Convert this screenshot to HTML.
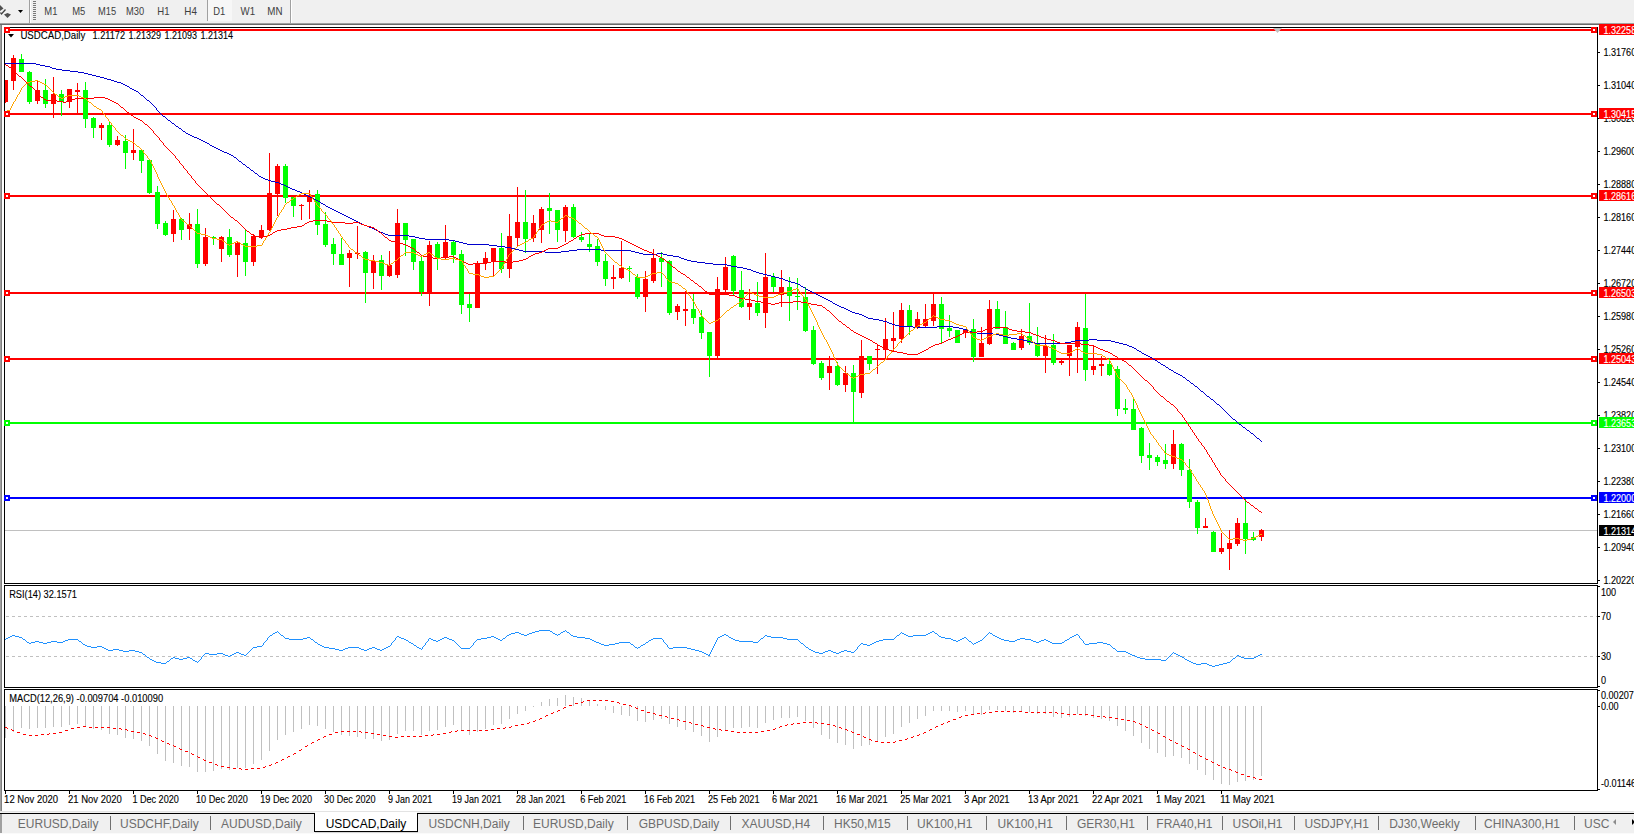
<!DOCTYPE html>
<html><head><meta charset="utf-8"><title>USDCAD,Daily</title>
<style>
html,body{margin:0;padding:0;background:#f0f0f0;}
#root{position:relative;width:1634px;height:834px;overflow:hidden;background:#f0f0f0;font-family:"Liberation Sans", sans-serif;}
svg{position:absolute;left:0;top:0;}
svg text{font-family:"Liberation Sans", sans-serif;}
</style></head><body><div id="root">
<svg width="1634" height="834" viewBox="0 0 1634 834">
<defs>
<clipPath id="cm"><rect x="5" y="28" width="1592" height="555"/></clipPath>
<clipPath id="cr"><rect x="5" y="586" width="1592" height="101"/></clipPath>
<clipPath id="cd"><rect x="5" y="690" width="1592" height="100"/></clipPath>
</defs>

<g shape-rendering="crispEdges">
<rect x="0" y="0" width="1634" height="23" fill="#f0f0f0"/>
<rect x="0" y="23" width="1634" height="1" fill="#a0a0a0"/>
<rect x="0" y="24" width="1634" height="1" fill="#696969"/>
<rect x="29" y="0" width="1" height="23" fill="#a0a0a0"/><rect x="30" y="0" width="1" height="23" fill="#ffffff"/>
<rect x="33" y="1" width="3" height="1" fill="#7a7a7a"/>
<rect x="33" y="3" width="3" height="1" fill="#7a7a7a"/>
<rect x="33" y="5" width="3" height="1" fill="#7a7a7a"/>
<rect x="33" y="7" width="3" height="1" fill="#7a7a7a"/>
<rect x="33" y="9" width="3" height="1" fill="#7a7a7a"/>
<rect x="33" y="11" width="3" height="1" fill="#7a7a7a"/>
<rect x="33" y="13" width="3" height="1" fill="#7a7a7a"/>
<rect x="33" y="15" width="3" height="1" fill="#7a7a7a"/>
<rect x="33" y="17" width="3" height="1" fill="#7a7a7a"/>
<rect x="33" y="19" width="3" height="1" fill="#7a7a7a"/>
<rect x="207" y="0" width="1" height="21" fill="#a0a0a0"/><rect x="208" y="0" width="24" height="21" fill="#f7f7f7"/>
<rect x="290" y="0" width="1" height="23" fill="#a0a0a0"/><rect x="291" y="0" width="1" height="23" fill="#ffffff"/>
</g>
<path d="M0,5 L3.5,8.5 L0,11 Z" fill="#505050"/>
<path d="M0.5,12.5 L1.5,14 L5.5,9.5" fill="none" stroke="#404040" stroke-width="1.3"/>
<path d="M4,14.5 L7.5,13 L11,14.5 L7.5,18 Z" fill="#505050"/>
<path d="M18,10 L23,10 L20.5,13 Z" fill="#000"/>
<text x="44.300000000000004" y="15.2" font-size="10.2" fill="#404040" textLength="13.1" lengthAdjust="spacingAndGlyphs">M1</text>
<text x="72.2" y="15.2" font-size="10.2" fill="#404040" textLength="13.1" lengthAdjust="spacingAndGlyphs">M5</text>
<text x="98.10000000000001" y="15.2" font-size="10.2" fill="#404040" textLength="18.1" lengthAdjust="spacingAndGlyphs">M15</text>
<text x="126.0" y="15.2" font-size="10.2" fill="#404040" textLength="18.1" lengthAdjust="spacingAndGlyphs">M30</text>
<text x="157.29999999999998" y="15.2" font-size="10.2" fill="#404040" textLength="12.2" lengthAdjust="spacingAndGlyphs">H1</text>
<text x="184.29999999999998" y="15.2" font-size="10.2" fill="#404040" textLength="12.6" lengthAdjust="spacingAndGlyphs">H4</text>
<text x="213.29999999999998" y="15.2" font-size="10.2" fill="#404040" textLength="12.0" lengthAdjust="spacingAndGlyphs">D1</text>
<text x="240.6" y="15.2" font-size="10.2" fill="#404040" textLength="14.5" lengthAdjust="spacingAndGlyphs">W1</text>
<text x="267.3" y="15.2" font-size="10.2" fill="#404040" textLength="15.2" lengthAdjust="spacingAndGlyphs">MN</text>
<g shape-rendering="crispEdges">
<rect x="0" y="25" width="1" height="787" fill="#a0a0a0"/><rect x="1" y="25" width="1" height="787" fill="#808080"/>
<rect x="2" y="25" width="1632" height="787" fill="#ffffff"/>
<rect x="4.5" y="27.5" width="1593" height="556" fill="none" stroke="#000" stroke-width="1"/>
<rect x="4.5" y="585.5" width="1593" height="102" fill="none" stroke="#000" stroke-width="1"/>
<rect x="4.5" y="689.5" width="1593" height="101" fill="none" stroke="#000" stroke-width="1"/>
</g>
<g clip-path="url(#cm)" shape-rendering="crispEdges">
<rect x="5" y="530" width="1592" height="1" fill="#c0c0c0"/>
<rect x="5" y="29" width="1592" height="2" fill="#ff0000"/>
<rect x="5" y="113" width="1592" height="2" fill="#ff0000"/>
<rect x="5" y="195" width="1592" height="2" fill="#ff0000"/>
<rect x="5" y="292" width="1592" height="2" fill="#ff0000"/>
<rect x="5" y="358" width="1592" height="2" fill="#ff0000"/>
<rect x="5" y="422" width="1592" height="2" fill="#00ff00"/>
<rect x="5" y="497" width="1592" height="2" fill="#0000ff"/>
</g>
<g clip-path="url(#cm)" shape-rendering="crispEdges">
<rect x="5" y="80" width="1" height="23" fill="#ff0000"/>
<rect x="3" y="80" width="5" height="22" fill="#ff0000"/>
<rect x="13" y="55" width="1" height="35" fill="#ff0000"/>
<rect x="11" y="58" width="5" height="23" fill="#ff0000"/>
<rect x="21" y="54" width="1" height="18" fill="#00ff00"/>
<rect x="19" y="59" width="5" height="13" fill="#00ff00"/>
<rect x="29" y="71" width="1" height="33" fill="#00ff00"/>
<rect x="27" y="72" width="5" height="30" fill="#00ff00"/>
<rect x="37" y="81" width="1" height="23" fill="#ff0000"/>
<rect x="35" y="90" width="5" height="11" fill="#ff0000"/>
<rect x="45" y="79" width="1" height="29" fill="#00ff00"/>
<rect x="43" y="90" width="5" height="14" fill="#00ff00"/>
<rect x="53" y="77" width="1" height="41" fill="#ff0000"/>
<rect x="51" y="94" width="5" height="10" fill="#ff0000"/>
<rect x="61" y="90" width="1" height="26" fill="#00ff00"/>
<rect x="59" y="94" width="5" height="8" fill="#00ff00"/>
<rect x="69" y="89" width="1" height="19" fill="#ff0000"/>
<rect x="67" y="89" width="5" height="13" fill="#ff0000"/>
<rect x="77" y="83" width="1" height="31" fill="#ff0000"/>
<rect x="75" y="90" width="5" height="2" fill="#ff0000"/>
<rect x="85" y="82" width="1" height="46" fill="#00ff00"/>
<rect x="83" y="90" width="5" height="29" fill="#00ff00"/>
<rect x="93" y="117" width="1" height="21" fill="#00ff00"/>
<rect x="91" y="118" width="5" height="10" fill="#00ff00"/>
<rect x="101" y="123" width="1" height="17" fill="#ff0000"/>
<rect x="99" y="125" width="5" height="3" fill="#ff0000"/>
<rect x="109" y="122" width="1" height="25" fill="#00ff00"/>
<rect x="107" y="125" width="5" height="20" fill="#00ff00"/>
<rect x="117" y="136" width="1" height="10" fill="#ff0000"/>
<rect x="115" y="140" width="5" height="5" fill="#ff0000"/>
<rect x="125" y="135" width="1" height="34" fill="#00ff00"/>
<rect x="123" y="141" width="5" height="12" fill="#00ff00"/>
<rect x="133" y="129" width="1" height="31" fill="#ff0000"/>
<rect x="131" y="150" width="5" height="3" fill="#ff0000"/>
<rect x="141" y="150" width="1" height="23" fill="#00ff00"/>
<rect x="139" y="150" width="5" height="11" fill="#00ff00"/>
<rect x="149" y="160" width="1" height="34" fill="#00ff00"/>
<rect x="147" y="160" width="5" height="33" fill="#00ff00"/>
<rect x="157" y="186" width="1" height="43" fill="#00ff00"/>
<rect x="155" y="192" width="5" height="32" fill="#00ff00"/>
<rect x="165" y="221" width="1" height="15" fill="#00ff00"/>
<rect x="163" y="223" width="5" height="12" fill="#00ff00"/>
<rect x="173" y="210" width="1" height="32" fill="#ff0000"/>
<rect x="171" y="219" width="5" height="15" fill="#ff0000"/>
<rect x="181" y="218" width="1" height="22" fill="#00ff00"/>
<rect x="179" y="219" width="5" height="11" fill="#00ff00"/>
<rect x="189" y="213" width="1" height="27" fill="#ff0000"/>
<rect x="187" y="224" width="5" height="5" fill="#ff0000"/>
<rect x="197" y="209" width="1" height="59" fill="#00ff00"/>
<rect x="195" y="224" width="5" height="40" fill="#00ff00"/>
<rect x="205" y="228" width="1" height="38" fill="#ff0000"/>
<rect x="203" y="237" width="5" height="27" fill="#ff0000"/>
<rect x="213" y="236" width="1" height="9" fill="#00ff00"/>
<rect x="211" y="237" width="5" height="1" fill="#00ff00"/>
<rect x="221" y="236" width="1" height="26" fill="#ff0000"/>
<rect x="219" y="237" width="5" height="12" fill="#ff0000"/>
<rect x="229" y="229" width="1" height="28" fill="#00ff00"/>
<rect x="227" y="237" width="5" height="18" fill="#00ff00"/>
<rect x="237" y="242" width="1" height="35" fill="#ff0000"/>
<rect x="235" y="243" width="5" height="12" fill="#ff0000"/>
<rect x="245" y="230" width="1" height="46" fill="#00ff00"/>
<rect x="243" y="243" width="5" height="19" fill="#00ff00"/>
<rect x="253" y="234" width="1" height="32" fill="#ff0000"/>
<rect x="251" y="236" width="5" height="26" fill="#ff0000"/>
<rect x="261" y="225" width="1" height="14" fill="#ff0000"/>
<rect x="259" y="230" width="5" height="7" fill="#ff0000"/>
<rect x="269" y="153" width="1" height="78" fill="#ff0000"/>
<rect x="267" y="193" width="5" height="37" fill="#ff0000"/>
<rect x="277" y="164" width="1" height="52" fill="#ff0000"/>
<rect x="275" y="166" width="5" height="28" fill="#ff0000"/>
<rect x="285" y="164" width="1" height="39" fill="#00ff00"/>
<rect x="283" y="166" width="5" height="32" fill="#00ff00"/>
<rect x="293" y="197" width="1" height="20" fill="#00ff00"/>
<rect x="291" y="197" width="5" height="9" fill="#00ff00"/>
<rect x="301" y="204" width="1" height="16" fill="#ff0000"/>
<rect x="299" y="205" width="5" height="1" fill="#ff0000"/>
<rect x="309" y="190" width="1" height="29" fill="#ff0000"/>
<rect x="307" y="195" width="5" height="7" fill="#ff0000"/>
<rect x="317" y="190" width="1" height="45" fill="#00ff00"/>
<rect x="315" y="194" width="5" height="31" fill="#00ff00"/>
<rect x="325" y="212" width="1" height="35" fill="#00ff00"/>
<rect x="323" y="224" width="5" height="21" fill="#00ff00"/>
<rect x="333" y="238" width="1" height="27" fill="#00ff00"/>
<rect x="331" y="244" width="5" height="10" fill="#00ff00"/>
<rect x="341" y="238" width="1" height="27" fill="#00ff00"/>
<rect x="339" y="254" width="5" height="11" fill="#00ff00"/>
<rect x="349" y="250" width="1" height="37" fill="#ff0000"/>
<rect x="347" y="253" width="5" height="5" fill="#ff0000"/>
<rect x="357" y="226" width="1" height="33" fill="#ff0000"/>
<rect x="355" y="253" width="5" height="1" fill="#ff0000"/>
<rect x="365" y="251" width="1" height="52" fill="#00ff00"/>
<rect x="363" y="252" width="5" height="21" fill="#00ff00"/>
<rect x="373" y="255" width="1" height="34" fill="#ff0000"/>
<rect x="371" y="261" width="5" height="12" fill="#ff0000"/>
<rect x="381" y="255" width="1" height="35" fill="#00ff00"/>
<rect x="379" y="260" width="5" height="16" fill="#00ff00"/>
<rect x="389" y="251" width="1" height="26" fill="#ff0000"/>
<rect x="387" y="265" width="5" height="11" fill="#ff0000"/>
<rect x="397" y="209" width="1" height="69" fill="#ff0000"/>
<rect x="395" y="223" width="5" height="52" fill="#ff0000"/>
<rect x="405" y="223" width="1" height="33" fill="#00ff00"/>
<rect x="403" y="223" width="5" height="17" fill="#00ff00"/>
<rect x="413" y="239" width="1" height="31" fill="#00ff00"/>
<rect x="411" y="239" width="5" height="23" fill="#00ff00"/>
<rect x="421" y="256" width="1" height="40" fill="#00ff00"/>
<rect x="419" y="261" width="5" height="31" fill="#00ff00"/>
<rect x="429" y="241" width="1" height="65" fill="#ff0000"/>
<rect x="427" y="245" width="5" height="47" fill="#ff0000"/>
<rect x="437" y="242" width="1" height="28" fill="#00ff00"/>
<rect x="435" y="244" width="5" height="14" fill="#00ff00"/>
<rect x="445" y="225" width="1" height="35" fill="#ff0000"/>
<rect x="443" y="242" width="5" height="15" fill="#ff0000"/>
<rect x="453" y="241" width="1" height="22" fill="#00ff00"/>
<rect x="451" y="242" width="5" height="13" fill="#00ff00"/>
<rect x="461" y="250" width="1" height="64" fill="#00ff00"/>
<rect x="459" y="254" width="5" height="51" fill="#00ff00"/>
<rect x="469" y="294" width="1" height="28" fill="#00ff00"/>
<rect x="467" y="304" width="5" height="4" fill="#00ff00"/>
<rect x="477" y="261" width="1" height="47" fill="#ff0000"/>
<rect x="475" y="263" width="5" height="45" fill="#ff0000"/>
<rect x="485" y="252" width="1" height="18" fill="#ff0000"/>
<rect x="483" y="258" width="5" height="5" fill="#ff0000"/>
<rect x="493" y="248" width="1" height="28" fill="#ff0000"/>
<rect x="491" y="248" width="5" height="14" fill="#ff0000"/>
<rect x="501" y="233" width="1" height="40" fill="#00ff00"/>
<rect x="499" y="248" width="5" height="21" fill="#00ff00"/>
<rect x="509" y="214" width="1" height="64" fill="#ff0000"/>
<rect x="507" y="236" width="5" height="33" fill="#ff0000"/>
<rect x="517" y="187" width="1" height="59" fill="#ff0000"/>
<rect x="515" y="222" width="5" height="16" fill="#ff0000"/>
<rect x="525" y="190" width="1" height="63" fill="#00ff00"/>
<rect x="523" y="222" width="5" height="17" fill="#00ff00"/>
<rect x="533" y="215" width="1" height="27" fill="#ff0000"/>
<rect x="531" y="223" width="5" height="15" fill="#ff0000"/>
<rect x="541" y="207" width="1" height="36" fill="#ff0000"/>
<rect x="539" y="209" width="5" height="21" fill="#ff0000"/>
<rect x="549" y="193" width="1" height="41" fill="#00ff00"/>
<rect x="547" y="208" width="5" height="3" fill="#00ff00"/>
<rect x="557" y="210" width="1" height="32" fill="#00ff00"/>
<rect x="555" y="210" width="5" height="20" fill="#00ff00"/>
<rect x="565" y="205" width="1" height="37" fill="#ff0000"/>
<rect x="563" y="207" width="5" height="24" fill="#ff0000"/>
<rect x="573" y="204" width="1" height="34" fill="#00ff00"/>
<rect x="571" y="207" width="5" height="30" fill="#00ff00"/>
<rect x="581" y="232" width="1" height="10" fill="#00ff00"/>
<rect x="579" y="237" width="5" height="3" fill="#00ff00"/>
<rect x="589" y="234" width="1" height="18" fill="#00ff00"/>
<rect x="587" y="244" width="5" height="3" fill="#00ff00"/>
<rect x="597" y="239" width="1" height="27" fill="#00ff00"/>
<rect x="595" y="246" width="5" height="16" fill="#00ff00"/>
<rect x="605" y="254" width="1" height="32" fill="#00ff00"/>
<rect x="603" y="261" width="5" height="18" fill="#00ff00"/>
<rect x="613" y="265" width="1" height="24" fill="#ff0000"/>
<rect x="611" y="277" width="5" height="2" fill="#ff0000"/>
<rect x="621" y="241" width="1" height="38" fill="#ff0000"/>
<rect x="619" y="268" width="5" height="10" fill="#ff0000"/>
<rect x="629" y="266" width="1" height="16" fill="#00ff00"/>
<rect x="627" y="268" width="5" height="1" fill="#00ff00"/>
<rect x="637" y="274" width="1" height="25" fill="#00ff00"/>
<rect x="635" y="277" width="5" height="20" fill="#00ff00"/>
<rect x="645" y="271" width="1" height="41" fill="#ff0000"/>
<rect x="643" y="279" width="5" height="18" fill="#ff0000"/>
<rect x="653" y="249" width="1" height="34" fill="#ff0000"/>
<rect x="651" y="258" width="5" height="23" fill="#ff0000"/>
<rect x="661" y="252" width="1" height="35" fill="#00ff00"/>
<rect x="659" y="258" width="5" height="4" fill="#00ff00"/>
<rect x="669" y="260" width="1" height="55" fill="#00ff00"/>
<rect x="667" y="261" width="5" height="52" fill="#00ff00"/>
<rect x="677" y="304" width="1" height="16" fill="#ff0000"/>
<rect x="675" y="306" width="5" height="6" fill="#ff0000"/>
<rect x="685" y="291" width="1" height="35" fill="#ff0000"/>
<rect x="683" y="309" width="5" height="2" fill="#ff0000"/>
<rect x="693" y="294" width="1" height="30" fill="#00ff00"/>
<rect x="691" y="309" width="5" height="9" fill="#00ff00"/>
<rect x="701" y="310" width="1" height="29" fill="#00ff00"/>
<rect x="699" y="317" width="5" height="16" fill="#00ff00"/>
<rect x="709" y="332" width="1" height="45" fill="#00ff00"/>
<rect x="707" y="332" width="5" height="24" fill="#00ff00"/>
<rect x="717" y="277" width="1" height="81" fill="#ff0000"/>
<rect x="715" y="289" width="5" height="67" fill="#ff0000"/>
<rect x="725" y="257" width="1" height="36" fill="#ff0000"/>
<rect x="723" y="267" width="5" height="23" fill="#ff0000"/>
<rect x="733" y="255" width="1" height="40" fill="#00ff00"/>
<rect x="731" y="256" width="5" height="35" fill="#00ff00"/>
<rect x="741" y="271" width="1" height="37" fill="#00ff00"/>
<rect x="739" y="290" width="5" height="17" fill="#00ff00"/>
<rect x="749" y="289" width="1" height="31" fill="#ff0000"/>
<rect x="747" y="303" width="5" height="4" fill="#ff0000"/>
<rect x="757" y="282" width="1" height="34" fill="#00ff00"/>
<rect x="755" y="303" width="5" height="10" fill="#00ff00"/>
<rect x="765" y="253" width="1" height="75" fill="#ff0000"/>
<rect x="763" y="277" width="5" height="36" fill="#ff0000"/>
<rect x="773" y="273" width="1" height="19" fill="#00ff00"/>
<rect x="771" y="277" width="5" height="10" fill="#00ff00"/>
<rect x="781" y="270" width="1" height="37" fill="#ff0000"/>
<rect x="779" y="287" width="5" height="8" fill="#ff0000"/>
<rect x="789" y="277" width="1" height="44" fill="#00ff00"/>
<rect x="787" y="287" width="5" height="9" fill="#00ff00"/>
<rect x="797" y="278" width="1" height="32" fill="#00ff00"/>
<rect x="795" y="296" width="5" height="1" fill="#00ff00"/>
<rect x="805" y="287" width="1" height="45" fill="#00ff00"/>
<rect x="803" y="297" width="5" height="34" fill="#00ff00"/>
<rect x="813" y="326" width="1" height="39" fill="#00ff00"/>
<rect x="811" y="330" width="5" height="34" fill="#00ff00"/>
<rect x="821" y="361" width="1" height="19" fill="#00ff00"/>
<rect x="819" y="363" width="5" height="15" fill="#00ff00"/>
<rect x="829" y="356" width="1" height="34" fill="#ff0000"/>
<rect x="827" y="366" width="5" height="7" fill="#ff0000"/>
<rect x="837" y="362" width="1" height="24" fill="#00ff00"/>
<rect x="835" y="366" width="5" height="19" fill="#00ff00"/>
<rect x="845" y="366" width="1" height="26" fill="#ff0000"/>
<rect x="843" y="373" width="5" height="12" fill="#ff0000"/>
<rect x="853" y="365" width="1" height="57" fill="#00ff00"/>
<rect x="851" y="373" width="5" height="19" fill="#00ff00"/>
<rect x="861" y="340" width="1" height="58" fill="#ff0000"/>
<rect x="859" y="356" width="5" height="37" fill="#ff0000"/>
<rect x="869" y="356" width="1" height="14" fill="#00ff00"/>
<rect x="867" y="356" width="5" height="8" fill="#00ff00"/>
<rect x="877" y="344" width="1" height="30" fill="#ff0000"/>
<rect x="875" y="349" width="5" height="1" fill="#ff0000"/>
<rect x="885" y="318" width="1" height="40" fill="#ff0000"/>
<rect x="883" y="339" width="5" height="11" fill="#ff0000"/>
<rect x="893" y="312" width="1" height="40" fill="#ff0000"/>
<rect x="891" y="338" width="5" height="3" fill="#ff0000"/>
<rect x="901" y="303" width="1" height="40" fill="#ff0000"/>
<rect x="899" y="310" width="5" height="29" fill="#ff0000"/>
<rect x="909" y="305" width="1" height="30" fill="#00ff00"/>
<rect x="907" y="310" width="5" height="17" fill="#00ff00"/>
<rect x="917" y="312" width="1" height="17" fill="#ff0000"/>
<rect x="915" y="319" width="5" height="8" fill="#ff0000"/>
<rect x="925" y="304" width="1" height="23" fill="#ff0000"/>
<rect x="923" y="319" width="5" height="7" fill="#ff0000"/>
<rect x="933" y="294" width="1" height="32" fill="#ff0000"/>
<rect x="931" y="304" width="5" height="17" fill="#ff0000"/>
<rect x="941" y="297" width="1" height="47" fill="#00ff00"/>
<rect x="939" y="304" width="5" height="25" fill="#00ff00"/>
<rect x="949" y="315" width="1" height="22" fill="#00ff00"/>
<rect x="947" y="328" width="5" height="3" fill="#00ff00"/>
<rect x="957" y="330" width="1" height="13" fill="#00ff00"/>
<rect x="955" y="330" width="5" height="13" fill="#00ff00"/>
<rect x="965" y="329" width="1" height="9" fill="#ff0000"/>
<rect x="963" y="330" width="5" height="3" fill="#ff0000"/>
<rect x="973" y="319" width="1" height="43" fill="#00ff00"/>
<rect x="971" y="329" width="5" height="28" fill="#00ff00"/>
<rect x="981" y="327" width="1" height="30" fill="#ff0000"/>
<rect x="979" y="343" width="5" height="14" fill="#ff0000"/>
<rect x="989" y="300" width="1" height="45" fill="#ff0000"/>
<rect x="987" y="309" width="5" height="35" fill="#ff0000"/>
<rect x="997" y="301" width="1" height="28" fill="#00ff00"/>
<rect x="995" y="309" width="5" height="20" fill="#00ff00"/>
<rect x="1005" y="311" width="1" height="33" fill="#00ff00"/>
<rect x="1003" y="327" width="5" height="17" fill="#00ff00"/>
<rect x="1013" y="342" width="1" height="8" fill="#00ff00"/>
<rect x="1011" y="343" width="5" height="7" fill="#00ff00"/>
<rect x="1021" y="329" width="1" height="21" fill="#ff0000"/>
<rect x="1019" y="336" width="5" height="12" fill="#ff0000"/>
<rect x="1029" y="303" width="1" height="42" fill="#00ff00"/>
<rect x="1027" y="336" width="5" height="7" fill="#00ff00"/>
<rect x="1037" y="327" width="1" height="30" fill="#00ff00"/>
<rect x="1035" y="343" width="5" height="13" fill="#00ff00"/>
<rect x="1045" y="335" width="1" height="38" fill="#ff0000"/>
<rect x="1043" y="346" width="5" height="10" fill="#ff0000"/>
<rect x="1053" y="334" width="1" height="31" fill="#00ff00"/>
<rect x="1051" y="345" width="5" height="18" fill="#00ff00"/>
<rect x="1061" y="360" width="1" height="5" fill="#ff0000"/>
<rect x="1059" y="361" width="5" height="2" fill="#ff0000"/>
<rect x="1069" y="345" width="1" height="31" fill="#ff0000"/>
<rect x="1067" y="345" width="5" height="11" fill="#ff0000"/>
<rect x="1077" y="322" width="1" height="51" fill="#ff0000"/>
<rect x="1075" y="327" width="5" height="20" fill="#ff0000"/>
<rect x="1085" y="294" width="1" height="87" fill="#00ff00"/>
<rect x="1083" y="328" width="5" height="42" fill="#00ff00"/>
<rect x="1093" y="346" width="1" height="29" fill="#ff0000"/>
<rect x="1091" y="366" width="5" height="4" fill="#ff0000"/>
<rect x="1101" y="356" width="1" height="20" fill="#ff0000"/>
<rect x="1099" y="364" width="5" height="2" fill="#ff0000"/>
<rect x="1109" y="358" width="1" height="18" fill="#00ff00"/>
<rect x="1107" y="364" width="5" height="11" fill="#00ff00"/>
<rect x="1117" y="366" width="1" height="50" fill="#00ff00"/>
<rect x="1115" y="369" width="5" height="40" fill="#00ff00"/>
<rect x="1125" y="399" width="1" height="15" fill="#00ff00"/>
<rect x="1123" y="408" width="5" height="2" fill="#00ff00"/>
<rect x="1133" y="399" width="1" height="31" fill="#00ff00"/>
<rect x="1131" y="409" width="5" height="21" fill="#00ff00"/>
<rect x="1141" y="427" width="1" height="36" fill="#00ff00"/>
<rect x="1139" y="428" width="5" height="28" fill="#00ff00"/>
<rect x="1149" y="443" width="1" height="27" fill="#00ff00"/>
<rect x="1147" y="455" width="5" height="3" fill="#00ff00"/>
<rect x="1157" y="455" width="1" height="11" fill="#00ff00"/>
<rect x="1155" y="457" width="5" height="5" fill="#00ff00"/>
<rect x="1165" y="444" width="1" height="25" fill="#00ff00"/>
<rect x="1163" y="460" width="5" height="4" fill="#00ff00"/>
<rect x="1173" y="430" width="1" height="39" fill="#ff0000"/>
<rect x="1171" y="444" width="5" height="20" fill="#ff0000"/>
<rect x="1181" y="443" width="1" height="33" fill="#00ff00"/>
<rect x="1179" y="444" width="5" height="26" fill="#00ff00"/>
<rect x="1189" y="459" width="1" height="49" fill="#00ff00"/>
<rect x="1187" y="470" width="5" height="32" fill="#00ff00"/>
<rect x="1197" y="500" width="1" height="34" fill="#00ff00"/>
<rect x="1195" y="502" width="5" height="26" fill="#00ff00"/>
<rect x="1205" y="518" width="1" height="10" fill="#ff0000"/>
<rect x="1203" y="526" width="5" height="2" fill="#ff0000"/>
<rect x="1213" y="531" width="1" height="21" fill="#00ff00"/>
<rect x="1211" y="532" width="5" height="20" fill="#00ff00"/>
<rect x="1221" y="533" width="1" height="21" fill="#ff0000"/>
<rect x="1219" y="548" width="5" height="4" fill="#ff0000"/>
<rect x="1229" y="530" width="1" height="40" fill="#ff0000"/>
<rect x="1227" y="543" width="5" height="6" fill="#ff0000"/>
<rect x="1237" y="518" width="1" height="28" fill="#ff0000"/>
<rect x="1235" y="523" width="5" height="21" fill="#ff0000"/>
<rect x="1245" y="499" width="1" height="55" fill="#00ff00"/>
<rect x="1243" y="523" width="5" height="16" fill="#00ff00"/>
<rect x="1253" y="532" width="1" height="9" fill="#00ff00"/>
<rect x="1251" y="537" width="5" height="3" fill="#00ff00"/>
<rect x="1261" y="529" width="1" height="12" fill="#ff0000"/>
<rect x="1259" y="530" width="5" height="7" fill="#ff0000"/>
</g>
<g clip-path="url(#cm)" shape-rendering="crispEdges">
<path d="M5 63h31v1h-31zM36 64h4v1h-4zM40 65h5v1h-5zM45 66h5v1h-5zM50 67h2v1h-2zM52 68h4v1h-4zM56 69h6v1h-6zM62 70h8v1h-8zM70 71h8v1h-8zM78 72h6v1h-6zM84 73h4v1h-4zM88 74h4v1h-4zM92 75h4v1h-4zM96 76h4v1h-4zM100 77h4v1h-4zM104 78h3v1h-3zM107 79h4v1h-4zM111 80h3v1h-3zM114 81h3v1h-3zM117 82h4v1h-4zM121 83h2v1h-2zM123 84h2v1h-2zM125 85h2v1h-2zM127 86h2v1h-2zM129 87h1v1h-1zM130 88h2v1h-2zM132 89h2v1h-2zM134 90h2v1h-2zM136 91h2v1h-2zM138 92h1v1h-1zM139 93h1v1h-1zM140 94h1v1h-1zM141 95h2v1h-2zM143 96h1v1h-1zM144 97h1v1h-1zM145 98h1v1h-1zM146 99h1v1h-1zM147 100h2v1h-2zM149 101h1v1h-1zM150 102h1v1h-1zM151 103h1v1h-1zM152 104h1v1h-1zM153 105h1v1h-1zM154 106h1v1h-1zM155 107h1v1h-1zM156 108h1v1h-1zM156 109h1v1h-1zM157 110h1v1h-1zM158 111h1v1h-1zM159 112h1v1h-1zM160 113h1v1h-1zM161 114h1v1h-1zM162 115h1v1h-1zM163 116h2v1h-2zM165 117h1v1h-1zM166 118h1v1h-1zM167 119h1v1h-1zM168 120h2v1h-2zM170 121h1v1h-1zM171 122h1v1h-1zM172 123h2v1h-2zM174 124h1v1h-1zM175 125h1v1h-1zM176 126h2v1h-2zM178 127h1v1h-1zM179 128h2v1h-2zM181 129h1v1h-1zM182 130h1v1h-1zM183 131h2v1h-2zM185 132h1v1h-1zM186 133h2v1h-2zM188 134h2v1h-2zM190 135h2v1h-2zM192 136h2v1h-2zM194 137h3v1h-3zM197 138h2v1h-2zM199 139h2v1h-2zM201 140h2v1h-2zM203 141h2v1h-2zM205 142h2v1h-2zM207 143h2v1h-2zM209 144h1v1h-1zM210 145h2v1h-2zM212 146h2v1h-2zM214 147h2v1h-2zM216 148h2v1h-2zM218 149h2v1h-2zM220 150h2v1h-2zM222 151h2v1h-2zM224 152h3v1h-3zM227 153h2v1h-2zM229 154h2v1h-2zM231 155h2v1h-2zM233 156h1v1h-1zM234 157h2v1h-2zM236 158h1v1h-1zM237 159h1v1h-1zM238 160h1v1h-1zM239 161h2v1h-2zM241 162h1v1h-1zM242 163h1v1h-1zM243 164h2v1h-2zM245 165h1v1h-1zM246 166h1v1h-1zM247 167h2v1h-2zM249 168h1v1h-1zM250 169h1v1h-1zM251 170h2v1h-2zM253 171h1v1h-1zM254 172h1v1h-1zM255 173h2v1h-2zM257 174h1v1h-1zM258 175h1v1h-1zM259 176h2v1h-2zM261 177h2v1h-2zM263 178h2v1h-2zM265 179h3v1h-3zM268 180h3v1h-3zM271 181h4v1h-4zM275 182h4v1h-4zM279 183h2v1h-2zM281 184h3v1h-3zM284 185h2v1h-2zM286 186h2v1h-2zM288 187h2v1h-2zM290 188h2v1h-2zM292 189h3v1h-3zM295 190h2v1h-2zM297 191h3v1h-3zM300 192h2v1h-2zM302 193h2v1h-2zM304 194h2v1h-2zM306 195h2v1h-2zM308 196h2v1h-2zM310 197h2v1h-2zM312 198h2v1h-2zM314 199h2v1h-2zM316 200h2v1h-2zM318 201h2v1h-2zM320 202h1v1h-1zM321 203h2v1h-2zM323 204h2v1h-2zM325 205h1v1h-1zM326 206h2v1h-2zM328 207h2v1h-2zM330 208h2v1h-2zM332 209h2v1h-2zM334 210h2v1h-2zM336 211h2v1h-2zM338 212h2v1h-2zM340 213h2v1h-2zM342 214h2v1h-2zM344 215h2v1h-2zM346 216h2v1h-2zM348 217h2v1h-2zM350 218h2v1h-2zM352 219h2v1h-2zM354 220h2v1h-2zM356 221h2v1h-2zM358 222h2v1h-2zM360 223h2v1h-2zM362 224h2v1h-2zM364 225h3v1h-3zM367 226h2v1h-2zM369 227h3v1h-3zM372 228h2v1h-2zM374 229h2v1h-2zM376 230h2v1h-2zM378 231h2v1h-2zM380 232h3v1h-3zM383 233h2v1h-2zM385 234h3v1h-3zM388 235h21v1h-21zM409 236h6v1h-6zM415 237h4v1h-4zM419 238h6v1h-6zM425 239h24v1h-24zM449 240h6v1h-6zM455 241h4v1h-4zM459 242h4v1h-4zM463 243h4v1h-4zM467 244h22v1h-22zM489 245h8v1h-8zM497 246h8v1h-8zM505 247h6v1h-6zM511 248h4v1h-4zM515 249h4v1h-4zM577 249h24v1h-24zM519 250h4v1h-4zM569 250h8v1h-8zM601 250h30v1h-30zM523 251h22v1h-22zM561 251h8v1h-8zM631 251h4v1h-4zM545 252h16v1h-16zM635 252h4v1h-4zM639 253h4v1h-4zM657 253h6v1h-6zM643 254h14v1h-14zM663 254h4v1h-4zM667 255h6v1h-6zM673 256h6v1h-6zM679 257h2v1h-2zM681 258h3v1h-3zM684 259h3v1h-3zM687 260h4v1h-4zM691 261h6v1h-6zM697 262h8v1h-8zM705 263h8v1h-8zM713 264h14v1h-14zM727 265h4v1h-4zM731 266h6v1h-6zM737 267h6v1h-6zM743 268h4v1h-4zM747 269h4v1h-4zM751 270h2v1h-2zM753 271h3v1h-3zM756 272h3v1h-3zM759 273h4v1h-4zM763 274h4v1h-4zM767 275h4v1h-4zM771 276h4v1h-4zM775 277h4v1h-4zM779 278h4v1h-4zM783 279h2v1h-2zM785 280h3v1h-3zM788 281h3v1h-3zM791 282h4v1h-4zM795 283h3v1h-3zM798 284h2v1h-2zM800 285h1v1h-1zM801 286h2v1h-2zM803 287h2v1h-2zM805 288h1v1h-1zM806 289h2v1h-2zM808 290h2v1h-2zM810 291h2v1h-2zM812 292h2v1h-2zM814 293h2v1h-2zM816 294h2v1h-2zM818 295h2v1h-2zM820 296h2v1h-2zM822 297h2v1h-2zM824 298h2v1h-2zM826 299h2v1h-2zM828 300h2v1h-2zM830 301h2v1h-2zM832 302h1v1h-1zM833 303h2v1h-2zM835 304h2v1h-2zM837 305h2v1h-2zM839 306h2v1h-2zM841 307h3v1h-3zM844 308h2v1h-2zM846 309h2v1h-2zM848 310h2v1h-2zM850 311h2v1h-2zM852 312h3v1h-3zM855 313h4v1h-4zM859 314h3v1h-3zM862 315h2v1h-2zM864 316h2v1h-2zM866 317h2v1h-2zM868 318h5v1h-5zM873 319h6v1h-6zM879 320h4v1h-4zM883 321h4v1h-4zM887 322h2v1h-2zM889 323h3v1h-3zM892 324h3v1h-3zM895 325h4v1h-4zM899 326h14v1h-14zM937 326h16v1h-16zM913 327h24v1h-24zM953 327h6v1h-6zM959 328h4v1h-4zM963 329h4v1h-4zM967 330h2v1h-2zM969 331h3v1h-3zM972 332h5v1h-5zM977 333h16v1h-16zM993 334h6v1h-6zM999 335h4v1h-4zM1003 336h4v1h-4zM1007 337h4v1h-4zM1011 338h6v1h-6zM1017 339h6v1h-6zM1089 339h8v1h-8zM1023 340h4v1h-4zM1075 340h14v1h-14zM1097 340h14v1h-14zM1027 341h4v1h-4zM1071 341h4v1h-4zM1111 341h4v1h-4zM1031 342h4v1h-4zM1065 342h6v1h-6zM1115 342h4v1h-4zM1035 343h30v1h-30zM1119 343h4v1h-4zM1123 344h4v1h-4zM1127 345h2v1h-2zM1129 346h3v1h-3zM1132 347h2v1h-2zM1134 348h2v1h-2zM1136 349h1v1h-1zM1137 350h2v1h-2zM1139 351h2v1h-2zM1141 352h1v1h-1zM1142 353h2v1h-2zM1144 354h2v1h-2zM1146 355h2v1h-2zM1148 356h2v1h-2zM1150 357h2v1h-2zM1152 358h1v1h-1zM1153 359h2v1h-2zM1155 360h2v1h-2zM1157 361h1v1h-1zM1158 362h2v1h-2zM1160 363h1v1h-1zM1161 364h2v1h-2zM1163 365h2v1h-2zM1165 366h1v1h-1zM1166 367h2v1h-2zM1168 368h1v1h-1zM1169 369h2v1h-2zM1171 370h2v1h-2zM1173 371h1v1h-1zM1174 372h2v1h-2zM1176 373h2v1h-2zM1178 374h2v1h-2zM1180 375h2v1h-2zM1182 376h1v1h-1zM1183 377h2v1h-2zM1185 378h1v1h-1zM1186 379h1v1h-1zM1187 380h2v1h-2zM1189 381h1v1h-1zM1190 382h1v1h-1zM1191 383h2v1h-2zM1193 384h1v1h-1zM1194 385h1v1h-1zM1195 386h2v1h-2zM1197 387h1v1h-1zM1198 388h1v1h-1zM1199 389h1v1h-1zM1200 390h1v1h-1zM1201 391h2v1h-2zM1203 392h1v1h-1zM1204 393h1v1h-1zM1205 394h1v1h-1zM1206 395h1v1h-1zM1207 396h2v1h-2zM1209 397h1v1h-1zM1210 398h1v1h-1zM1211 399h2v1h-2zM1213 400h1v1h-1zM1214 401h1v1h-1zM1215 402h1v1h-1zM1216 403h1v1h-1zM1217 404h2v1h-2zM1219 405h1v1h-1zM1220 406h1v1h-1zM1221 407h1v1h-1zM1222 408h1v1h-1zM1223 409h1v1h-1zM1224 410h1v1h-1zM1225 411h1v1h-1zM1226 412h1v1h-1zM1227 413h1v1h-1zM1228 414h1v1h-1zM1229 415h1v1h-1zM1230 416h1v1h-1zM1231 417h1v1h-1zM1232 418h1v1h-1zM1233 419h2v1h-2zM1235 420h1v1h-1zM1236 421h1v1h-1zM1237 422h1v1h-1zM1238 423h1v1h-1zM1239 424h2v1h-2zM1241 425h1v1h-1zM1242 426h1v1h-1zM1243 427h2v1h-2zM1245 428h1v1h-1zM1246 429h1v1h-1zM1247 430h2v1h-2zM1249 431h1v1h-1zM1250 432h1v1h-1zM1251 433h2v1h-2zM1253 434h1v1h-1zM1254 435h1v1h-1zM1255 436h1v1h-1zM1256 437h1v1h-1zM1257 438h2v1h-2zM1259 439h1v1h-1zM1260 440h1v1h-1zM1261 441h1v1h-1z" fill="#0000cd"/>
<path d="M5 64h1v1h-1zM6 65h2v1h-2zM8 66h1v1h-1zM9 67h2v1h-2zM11 68h1v1h-1zM12 69h1v1h-1zM13 70h1v1h-1zM14 71h1v1h-1zM15 72h1v1h-1zM16 73h1v1h-1zM17 74h1v1h-1zM18 75h1v1h-1zM19 76h2v1h-2zM21 77h1v1h-1zM22 78h1v1h-1zM23 79h1v1h-1zM24 80h1v1h-1zM25 81h1v1h-1zM26 82h1v1h-1zM27 83h1v1h-1zM28 84h1v1h-1zM29 85h1v1h-1zM30 86h2v1h-2zM32 87h1v1h-1zM33 88h1v1h-1zM34 89h1v1h-1zM35 90h1v1h-1zM36 91h1v1h-1zM37 92h1v1h-1zM37 93h1v1h-1zM38 94h1v1h-1zM39 95h1v1h-1zM40 96h1v1h-1zM41 97h2v1h-2zM94 97h11v1h-11zM43 98h1v1h-1zM75 98h19v1h-19zM105 98h3v1h-3zM44 99h2v1h-2zM71 99h4v1h-4zM108 99h2v1h-2zM46 100h11v1h-11zM68 100h3v1h-3zM110 100h2v1h-2zM57 101h6v1h-6zM66 101h2v1h-2zM112 101h2v1h-2zM63 102h3v1h-3zM114 102h2v1h-2zM116 103h2v1h-2zM118 104h1v1h-1zM119 105h1v1h-1zM120 106h1v1h-1zM121 107h2v1h-2zM123 108h1v1h-1zM124 109h1v1h-1zM125 110h1v1h-1zM126 111h1v1h-1zM127 112h2v1h-2zM129 113h1v1h-1zM130 114h1v1h-1zM131 115h2v1h-2zM133 116h1v1h-1zM134 117h2v1h-2zM136 118h2v1h-2zM138 119h2v1h-2zM140 120h2v1h-2zM142 121h1v1h-1zM143 122h1v1h-1zM144 123h1v1h-1zM145 124h2v1h-2zM147 125h1v1h-1zM148 126h1v1h-1zM149 127h1v1h-1zM150 128h1v1h-1zM151 129h1v1h-1zM152 130h1v1h-1zM153 131h1v1h-1zM153 132h1v1h-1zM154 133h1v1h-1zM155 134h1v1h-1zM156 135h1v1h-1zM157 136h1v1h-1zM158 137h1v1h-1zM159 138h1v1h-1zM159 139h1v1h-1zM160 140h1v1h-1zM161 141h1v1h-1zM162 142h1v1h-1zM163 143h1v1h-1zM163 144h1v1h-1zM164 145h1v1h-1zM165 146h1v1h-1zM166 147h1v1h-1zM167 148h1v1h-1zM168 149h1v1h-1zM169 150h1v1h-1zM170 151h1v1h-1zM171 152h1v1h-1zM172 153h1v1h-1zM173 154h1v1h-1zM174 155h1v1h-1zM175 156h1v1h-1zM175 157h1v1h-1zM176 158h1v1h-1zM177 159h1v1h-1zM178 160h1v1h-1zM179 161h1v1h-1zM179 162h1v1h-1zM180 163h1v1h-1zM181 164h1v1h-1zM182 165h1v1h-1zM183 166h1v1h-1zM183 167h1v1h-1zM184 168h1v1h-1zM185 169h1v1h-1zM186 170h1v1h-1zM187 171h1v1h-1zM187 172h1v1h-1zM188 173h1v1h-1zM189 174h1v1h-1zM190 175h1v1h-1zM191 176h1v1h-1zM191 177h1v1h-1zM192 178h1v1h-1zM193 179h1v1h-1zM194 180h1v1h-1zM195 181h1v1h-1zM195 182h1v1h-1zM196 183h1v1h-1zM197 184h1v1h-1zM198 185h1v1h-1zM199 186h1v1h-1zM200 187h1v1h-1zM201 188h1v1h-1zM202 189h1v1h-1zM203 190h1v1h-1zM204 191h1v1h-1zM205 192h1v1h-1zM206 193h1v1h-1zM207 194h1v1h-1zM208 195h1v1h-1zM209 196h1v1h-1zM210 197h1v1h-1zM211 198h1v1h-1zM212 199h1v1h-1zM213 200h1v1h-1zM214 201h1v1h-1zM215 202h1v1h-1zM216 203h1v1h-1zM217 204h2v1h-2zM219 205h1v1h-1zM220 206h1v1h-1zM221 207h1v1h-1zM222 208h1v1h-1zM223 209h1v1h-1zM224 210h1v1h-1zM225 211h1v1h-1zM226 212h1v1h-1zM227 213h1v1h-1zM228 214h1v1h-1zM229 215h1v1h-1zM230 216h1v1h-1zM231 217h2v1h-2zM233 218h1v1h-1zM234 219h1v1h-1zM235 220h2v1h-2zM313 220h14v1h-14zM237 221h1v1h-1zM309 221h4v1h-4zM327 221h4v1h-4zM238 222h1v1h-1zM307 222h2v1h-2zM331 222h14v1h-14zM353 222h6v1h-6zM239 223h1v1h-1zM305 223h2v1h-2zM345 223h8v1h-8zM359 223h2v1h-2zM240 224h1v1h-1zM304 224h1v1h-1zM361 224h3v1h-3zM241 225h1v1h-1zM302 225h2v1h-2zM364 225h3v1h-3zM242 226h1v1h-1zM297 226h5v1h-5zM367 226h4v1h-4zM243 227h1v1h-1zM291 227h6v1h-6zM371 227h3v1h-3zM244 228h1v1h-1zM287 228h4v1h-4zM374 228h1v1h-1zM245 229h1v1h-1zM281 229h6v1h-6zM375 229h2v1h-2zM246 230h1v1h-1zM277 230h4v1h-4zM377 230h1v1h-1zM247 231h2v1h-2zM275 231h2v1h-2zM378 231h1v1h-1zM249 232h1v1h-1zM273 232h2v1h-2zM379 232h2v1h-2zM250 233h1v1h-1zM272 233h1v1h-1zM381 233h1v1h-1zM585 233h14v1h-14zM251 234h2v1h-2zM270 234h2v1h-2zM382 234h1v1h-1zM581 234h4v1h-4zM599 234h2v1h-2zM253 235h2v1h-2zM267 235h3v1h-3zM383 235h1v1h-1zM579 235h2v1h-2zM601 235h3v1h-3zM255 236h4v1h-4zM263 236h4v1h-4zM384 236h1v1h-1zM577 236h2v1h-2zM604 236h11v1h-11zM259 237h4v1h-4zM385 237h2v1h-2zM576 237h1v1h-1zM615 237h4v1h-4zM387 238h1v1h-1zM574 238h2v1h-2zM619 238h3v1h-3zM388 239h1v1h-1zM573 239h1v1h-1zM622 239h2v1h-2zM389 240h2v1h-2zM571 240h2v1h-2zM624 240h2v1h-2zM391 241h4v1h-4zM569 241h2v1h-2zM626 241h2v1h-2zM395 242h4v1h-4zM568 242h1v1h-1zM628 242h2v1h-2zM399 243h4v1h-4zM566 243h2v1h-2zM630 243h2v1h-2zM403 244h3v1h-3zM564 244h2v1h-2zM632 244h2v1h-2zM406 245h2v1h-2zM562 245h2v1h-2zM634 245h2v1h-2zM408 246h2v1h-2zM560 246h2v1h-2zM636 246h2v1h-2zM410 247h2v1h-2zM558 247h2v1h-2zM638 247h2v1h-2zM412 248h2v1h-2zM548 248h10v1h-10zM640 248h2v1h-2zM414 249h1v1h-1zM546 249h2v1h-2zM642 249h2v1h-2zM415 250h1v1h-1zM544 250h2v1h-2zM644 250h3v1h-3zM416 251h1v1h-1zM542 251h2v1h-2zM647 251h2v1h-2zM417 252h2v1h-2zM539 252h3v1h-3zM649 252h3v1h-3zM419 253h1v1h-1zM535 253h4v1h-4zM652 253h2v1h-2zM420 254h1v1h-1zM533 254h2v1h-2zM654 254h2v1h-2zM421 255h2v1h-2zM531 255h2v1h-2zM656 255h2v1h-2zM423 256h4v1h-4zM449 256h5v1h-5zM529 256h2v1h-2zM658 256h2v1h-2zM427 257h6v1h-6zM441 257h8v1h-8zM454 257h2v1h-2zM528 257h1v1h-1zM660 257h2v1h-2zM433 258h8v1h-8zM456 258h2v1h-2zM526 258h2v1h-2zM662 258h1v1h-1zM458 259h2v1h-2zM523 259h3v1h-3zM663 259h2v1h-2zM460 260h2v1h-2zM519 260h4v1h-4zM665 260h1v1h-1zM462 261h2v1h-2zM491 261h14v1h-14zM513 261h6v1h-6zM666 261h1v1h-1zM464 262h2v1h-2zM487 262h4v1h-4zM505 262h8v1h-8zM667 262h2v1h-2zM466 263h2v1h-2zM473 263h14v1h-14zM669 263h1v1h-1zM468 264h5v1h-5zM670 264h1v1h-1zM671 265h1v1h-1zM672 266h1v1h-1zM673 267h2v1h-2zM675 268h1v1h-1zM676 269h1v1h-1zM677 270h1v1h-1zM678 271h2v1h-2zM680 272h1v1h-1zM681 273h2v1h-2zM683 274h2v1h-2zM685 275h1v1h-1zM686 276h1v1h-1zM687 277h2v1h-2zM689 278h1v1h-1zM690 279h1v1h-1zM691 280h2v1h-2zM693 281h1v1h-1zM694 282h1v1h-1zM695 283h2v1h-2zM697 284h1v1h-1zM698 285h1v1h-1zM699 286h2v1h-2zM701 287h1v1h-1zM702 288h1v1h-1zM703 289h1v1h-1zM704 290h1v1h-1zM705 291h2v1h-2zM707 292h1v1h-1zM708 293h1v1h-1zM709 294h20v1h-20zM729 295h6v1h-6zM735 296h2v1h-2zM737 297h3v1h-3zM740 298h5v1h-5zM745 299h6v1h-6zM751 300h4v1h-4zM755 301h6v1h-6zM793 301h8v1h-8zM761 302h6v1h-6zM779 302h14v1h-14zM801 302h6v1h-6zM767 303h4v1h-4zM775 303h4v1h-4zM807 303h4v1h-4zM771 304h4v1h-4zM811 304h6v1h-6zM817 305h5v1h-5zM822 306h1v1h-1zM823 307h2v1h-2zM825 308h1v1h-1zM826 309h1v1h-1zM827 310h2v1h-2zM829 311h1v1h-1zM830 312h1v1h-1zM831 313h1v1h-1zM832 314h1v1h-1zM833 315h1v1h-1zM834 316h1v1h-1zM835 317h1v1h-1zM836 318h1v1h-1zM837 319h1v1h-1zM838 320h1v1h-1zM839 321h2v1h-2zM841 322h1v1h-1zM842 323h1v1h-1zM843 324h2v1h-2zM845 325h1v1h-1zM846 326h1v1h-1zM847 327h2v1h-2zM993 327h14v1h-14zM849 328h1v1h-1zM988 328h5v1h-5zM1007 328h2v1h-2zM850 329h1v1h-1zM985 329h3v1h-3zM1009 329h3v1h-3zM851 330h2v1h-2zM983 330h2v1h-2zM1012 330h5v1h-5zM853 331h1v1h-1zM977 331h6v1h-6zM1017 331h8v1h-8zM854 332h2v1h-2zM964 332h13v1h-13zM1025 332h6v1h-6zM856 333h2v1h-2zM962 333h2v1h-2zM1031 333h2v1h-2zM858 334h2v1h-2zM960 334h2v1h-2zM1033 334h3v1h-3zM860 335h2v1h-2zM958 335h2v1h-2zM1036 335h3v1h-3zM862 336h2v1h-2zM956 336h2v1h-2zM1039 336h2v1h-2zM864 337h2v1h-2zM953 337h3v1h-3zM1041 337h3v1h-3zM866 338h2v1h-2zM951 338h2v1h-2zM1044 338h3v1h-3zM868 339h2v1h-2zM948 339h3v1h-3zM1047 339h4v1h-4zM870 340h2v1h-2zM946 340h2v1h-2zM1051 340h4v1h-4zM872 341h1v1h-1zM944 341h2v1h-2zM1055 341h2v1h-2zM873 342h2v1h-2zM942 342h2v1h-2zM1057 342h3v1h-3zM875 343h2v1h-2zM939 343h3v1h-3zM1060 343h21v1h-21zM877 344h1v1h-1zM935 344h4v1h-4zM1081 344h8v1h-8zM878 345h2v1h-2zM933 345h2v1h-2zM1089 345h5v1h-5zM880 346h2v1h-2zM931 346h2v1h-2zM1094 346h2v1h-2zM882 347h2v1h-2zM929 347h2v1h-2zM1096 347h2v1h-2zM884 348h3v1h-3zM928 348h1v1h-1zM1098 348h2v1h-2zM887 349h2v1h-2zM926 349h2v1h-2zM1100 349h3v1h-3zM889 350h3v1h-3zM924 350h2v1h-2zM1103 350h2v1h-2zM892 351h5v1h-5zM922 351h2v1h-2zM1105 351h3v1h-3zM897 352h6v1h-6zM920 352h2v1h-2zM1108 352h2v1h-2zM903 353h4v1h-4zM918 353h2v1h-2zM1110 353h2v1h-2zM907 354h11v1h-11zM1112 354h1v1h-1zM1113 355h2v1h-2zM1115 356h2v1h-2zM1117 357h1v1h-1zM1118 358h2v1h-2zM1120 359h2v1h-2zM1122 360h2v1h-2zM1124 361h2v1h-2zM1126 362h1v1h-1zM1127 363h1v1h-1zM1128 364h1v1h-1zM1129 365h2v1h-2zM1131 366h1v1h-1zM1132 367h1v1h-1zM1133 368h1v1h-1zM1134 369h1v1h-1zM1135 370h1v1h-1zM1136 371h1v1h-1zM1137 372h1v1h-1zM1138 373h1v1h-1zM1139 374h1v1h-1zM1140 375h1v1h-1zM1141 376h1v1h-1zM1142 377h1v1h-1zM1143 378h1v1h-1zM1144 379h1v1h-1zM1145 380h2v1h-2zM1147 381h1v1h-1zM1148 382h1v1h-1zM1149 383h1v1h-1zM1150 384h1v1h-1zM1151 385h1v1h-1zM1152 386h1v1h-1zM1153 387h1v1h-1zM1153 388h1v1h-1zM1154 389h1v1h-1zM1155 390h1v1h-1zM1156 391h1v1h-1zM1157 392h1v1h-1zM1158 393h1v1h-1zM1159 394h1v1h-1zM1160 395h1v1h-1zM1161 396h2v1h-2zM1163 397h1v1h-1zM1164 398h1v1h-1zM1165 399h1v1h-1zM1166 400h1v1h-1zM1167 401h2v1h-2zM1169 402h1v1h-1zM1170 403h1v1h-1zM1171 404h2v1h-2zM1173 405h1v1h-1zM1174 406h1v1h-1zM1175 407h1v1h-1zM1176 408h1v1h-1zM1177 409h1v1h-1zM1177 410h1v1h-1zM1178 411h1v1h-1zM1179 412h1v1h-1zM1180 413h1v1h-1zM1181 414h1v1h-1zM1182 415h1v1h-1zM1182 416h1v1h-1zM1183 417h1v1h-1zM1184 418h1v1h-1zM1184 419h1v1h-1zM1185 420h1v1h-1zM1186 421h1v1h-1zM1186 422h1v1h-1zM1187 423h1v1h-1zM1188 424h1v1h-1zM1188 425h1v1h-1zM1189 426h1v1h-1zM1190 427h1v1h-1zM1190 428h1v1h-1zM1191 429h1v1h-1zM1192 430h1v1h-1zM1192 431h1v1h-1zM1193 432h1v1h-1zM1194 433h1v1h-1zM1194 434h1v1h-1zM1195 435h1v1h-1zM1196 436h1v1h-1zM1196 437h1v1h-1zM1197 438h1v1h-1zM1198 439h1v1h-1zM1198 440h1v1h-1zM1199 441h1v1h-1zM1200 442h1v1h-1zM1201 443h1v1h-1zM1201 444h1v1h-1zM1202 445h1v1h-1zM1203 446h1v1h-1zM1204 447h1v1h-1zM1204 448h1v1h-1zM1205 449h1v1h-1zM1206 450h1v1h-1zM1206 451h1v1h-1zM1207 452h1v1h-1zM1207 453h1v1h-1zM1208 454h1v1h-1zM1209 455h1v1h-1zM1209 456h1v1h-1zM1210 457h1v1h-1zM1211 458h1v1h-1zM1211 459h1v1h-1zM1212 460h1v1h-1zM1212 461h1v1h-1zM1213 462h1v1h-1zM1214 463h1v1h-1zM1214 464h1v1h-1zM1215 465h1v1h-1zM1215 466h1v1h-1zM1216 467h1v1h-1zM1217 468h1v1h-1zM1217 469h1v1h-1zM1218 470h1v1h-1zM1219 471h1v1h-1zM1219 472h1v1h-1zM1220 473h1v1h-1zM1220 474h1v1h-1zM1221 475h1v1h-1zM1222 476h1v1h-1zM1223 477h1v1h-1zM1224 478h1v1h-1zM1225 479h1v1h-1zM1225 480h1v1h-1zM1226 481h1v1h-1zM1227 482h1v1h-1zM1228 483h1v1h-1zM1229 484h1v1h-1zM1230 485h1v1h-1zM1231 486h1v1h-1zM1232 487h1v1h-1zM1233 488h1v1h-1zM1234 489h1v1h-1zM1235 490h1v1h-1zM1236 491h1v1h-1zM1237 492h1v1h-1zM1238 493h1v1h-1zM1239 494h1v1h-1zM1240 495h1v1h-1zM1241 496h1v1h-1zM1242 497h1v1h-1zM1243 498h1v1h-1zM1244 499h1v1h-1zM1245 500h1v1h-1zM1246 501h1v1h-1zM1247 502h2v1h-2zM1249 503h1v1h-1zM1250 504h1v1h-1zM1251 505h2v1h-2zM1253 506h1v1h-1zM1254 507h1v1h-1zM1255 508h2v1h-2zM1257 509h1v1h-1zM1258 510h1v1h-1zM1259 511h2v1h-2zM1261 512h1v1h-1z" fill="#ff0000"/>
<path d="M35 80h3v1h-3zM30 81h5v1h-5zM38 81h2v1h-2zM27 82h3v1h-3zM40 82h2v1h-2zM26 83h1v1h-1zM42 83h2v1h-2zM25 84h1v1h-1zM44 84h2v1h-2zM24 85h1v1h-1zM46 85h1v1h-1zM23 86h1v1h-1zM47 86h1v1h-1zM22 87h1v1h-1zM48 87h1v1h-1zM21 88h1v1h-1zM49 88h1v1h-1zM21 89h1v1h-1zM50 89h1v1h-1zM20 90h1v1h-1zM51 90h1v1h-1zM20 91h1v1h-1zM52 91h1v1h-1zM19 92h1v1h-1zM53 92h1v1h-1zM19 93h1v1h-1zM54 93h1v1h-1zM18 94h1v1h-1zM55 94h2v1h-2zM17 95h1v1h-1zM57 95h1v1h-1zM68 95h11v1h-11zM17 96h1v1h-1zM58 96h1v1h-1zM65 96h3v1h-3zM79 96h2v1h-2zM16 97h1v1h-1zM59 97h2v1h-2zM63 97h2v1h-2zM81 97h3v1h-3zM16 98h1v1h-1zM61 98h2v1h-2zM84 98h2v1h-2zM15 99h1v1h-1zM86 99h1v1h-1zM15 100h1v1h-1zM87 100h1v1h-1zM14 101h1v1h-1zM88 101h1v1h-1zM13 102h1v1h-1zM89 102h2v1h-2zM13 103h1v1h-1zM91 103h1v1h-1zM12 104h1v1h-1zM92 104h1v1h-1zM12 105h1v1h-1zM93 105h1v1h-1zM11 106h1v1h-1zM94 106h2v1h-2zM11 107h1v1h-1zM96 107h1v1h-1zM10 108h1v1h-1zM97 108h2v1h-2zM10 109h1v1h-1zM99 109h2v1h-2zM7 110h3v1h-3zM101 110h1v1h-1zM5 111h2v1h-2zM102 111h1v1h-1zM102 112h1v1h-1zM103 113h1v1h-1zM104 114h1v1h-1zM105 115h1v1h-1zM105 116h1v1h-1zM106 117h1v1h-1zM107 118h1v1h-1zM108 119h1v1h-1zM108 120h1v1h-1zM109 121h1v1h-1zM110 122h1v1h-1zM111 123h1v1h-1zM111 124h1v1h-1zM112 125h1v1h-1zM113 126h1v1h-1zM114 127h1v1h-1zM115 128h1v1h-1zM115 129h1v1h-1zM116 130h1v1h-1zM117 131h1v1h-1zM118 132h1v1h-1zM119 133h1v1h-1zM120 134h1v1h-1zM121 135h2v1h-2zM123 136h1v1h-1zM124 137h1v1h-1zM125 138h1v1h-1zM126 139h2v1h-2zM128 140h2v1h-2zM130 141h2v1h-2zM132 142h2v1h-2zM134 143h1v1h-1zM135 144h1v1h-1zM136 145h1v1h-1zM137 146h2v1h-2zM139 147h1v1h-1zM140 148h1v1h-1zM141 149h1v1h-1zM142 150h1v1h-1zM143 151h1v1h-1zM143 152h1v1h-1zM144 153h1v1h-1zM145 154h1v1h-1zM146 155h1v1h-1zM147 156h1v1h-1zM147 157h1v1h-1zM148 158h1v1h-1zM149 159h1v1h-1zM150 160h1v1h-1zM150 161h1v1h-1zM151 162h1v1h-1zM151 163h1v1h-1zM152 164h1v1h-1zM152 165h1v1h-1zM153 166h1v1h-1zM153 167h1v1h-1zM154 168h1v1h-1zM154 169h1v1h-1zM155 170h1v1h-1zM155 171h1v1h-1zM156 172h1v1h-1zM156 173h1v1h-1zM157 174h1v1h-1zM157 175h1v1h-1zM157 176h1v1h-1zM158 177h1v1h-1zM158 178h1v1h-1zM159 179h1v1h-1zM159 180h1v1h-1zM160 181h1v1h-1zM160 182h1v1h-1zM161 183h1v1h-1zM161 184h1v1h-1zM162 185h1v1h-1zM162 186h1v1h-1zM163 187h1v1h-1zM163 188h1v1h-1zM164 189h1v1h-1zM164 190h1v1h-1zM165 191h1v1h-1zM165 192h1v1h-1zM166 193h1v1h-1zM301 193h9v1h-9zM166 194h1v1h-1zM299 194h2v1h-2zM310 194h1v1h-1zM167 195h1v1h-1zM297 195h2v1h-2zM310 195h1v1h-1zM167 196h1v1h-1zM296 196h1v1h-1zM311 196h1v1h-1zM168 197h1v1h-1zM294 197h2v1h-2zM312 197h1v1h-1zM169 198h1v1h-1zM293 198h1v1h-1zM312 198h1v1h-1zM169 199h1v1h-1zM291 199h2v1h-2zM313 199h1v1h-1zM170 200h1v1h-1zM290 200h1v1h-1zM314 200h1v1h-1zM171 201h1v1h-1zM289 201h1v1h-1zM314 201h1v1h-1zM171 202h1v1h-1zM287 202h2v1h-2zM315 202h1v1h-1zM172 203h1v1h-1zM286 203h1v1h-1zM316 203h1v1h-1zM172 204h1v1h-1zM285 204h1v1h-1zM316 204h1v1h-1zM173 205h1v1h-1zM284 205h1v1h-1zM317 205h1v1h-1zM174 206h1v1h-1zM284 206h1v1h-1zM318 206h1v1h-1zM174 207h1v1h-1zM283 207h1v1h-1zM319 207h1v1h-1zM175 208h1v1h-1zM283 208h1v1h-1zM320 208h1v1h-1zM175 209h1v1h-1zM282 209h1v1h-1zM321 209h1v1h-1zM176 210h1v1h-1zM281 210h1v1h-1zM321 210h1v1h-1zM176 211h1v1h-1zM281 211h1v1h-1zM322 211h1v1h-1zM177 212h1v1h-1zM280 212h1v1h-1zM323 212h1v1h-1zM178 213h1v1h-1zM279 213h1v1h-1zM324 213h1v1h-1zM178 214h1v1h-1zM279 214h1v1h-1zM325 214h1v1h-1zM179 215h1v1h-1zM278 215h1v1h-1zM326 215h1v1h-1zM565 215h2v1h-2zM179 216h1v1h-1zM278 216h1v1h-1zM327 216h1v1h-1zM564 216h1v1h-1zM567 216h2v1h-2zM180 217h1v1h-1zM277 217h1v1h-1zM327 217h1v1h-1zM563 217h1v1h-1zM569 217h3v1h-3zM180 218h1v1h-1zM276 218h1v1h-1zM328 218h1v1h-1zM561 218h2v1h-2zM572 218h2v1h-2zM181 219h1v1h-1zM276 219h1v1h-1zM329 219h1v1h-1zM560 219h1v1h-1zM574 219h1v1h-1zM182 220h1v1h-1zM275 220h1v1h-1zM330 220h1v1h-1zM549 220h2v1h-2zM559 220h1v1h-1zM575 220h2v1h-2zM183 221h2v1h-2zM275 221h1v1h-1zM331 221h1v1h-1zM547 221h2v1h-2zM551 221h4v1h-4zM558 221h1v1h-1zM577 221h1v1h-1zM185 222h1v1h-1zM274 222h1v1h-1zM331 222h1v1h-1zM545 222h2v1h-2zM555 222h3v1h-3zM578 222h1v1h-1zM186 223h1v1h-1zM274 223h1v1h-1zM332 223h1v1h-1zM544 223h1v1h-1zM579 223h2v1h-2zM187 224h2v1h-2zM273 224h1v1h-1zM333 224h1v1h-1zM542 224h2v1h-2zM581 224h1v1h-1zM189 225h1v1h-1zM273 225h1v1h-1zM334 225h1v1h-1zM541 225h1v1h-1zM582 225h1v1h-1zM190 226h1v1h-1zM272 226h1v1h-1zM334 226h1v1h-1zM540 226h1v1h-1zM583 226h1v1h-1zM191 227h1v1h-1zM272 227h1v1h-1zM335 227h1v1h-1zM540 227h1v1h-1zM584 227h1v1h-1zM192 228h1v1h-1zM271 228h1v1h-1zM336 228h1v1h-1zM539 228h1v1h-1zM585 228h2v1h-2zM193 229h1v1h-1zM271 229h1v1h-1zM336 229h1v1h-1zM538 229h1v1h-1zM587 229h1v1h-1zM194 230h1v1h-1zM270 230h1v1h-1zM337 230h1v1h-1zM538 230h1v1h-1zM588 230h1v1h-1zM195 231h1v1h-1zM270 231h1v1h-1zM338 231h1v1h-1zM537 231h1v1h-1zM589 231h1v1h-1zM196 232h1v1h-1zM269 232h1v1h-1zM338 232h1v1h-1zM536 232h1v1h-1zM590 232h1v1h-1zM197 233h4v1h-4zM268 233h1v1h-1zM339 233h1v1h-1zM536 233h1v1h-1zM591 233h2v1h-2zM201 234h5v1h-5zM268 234h1v1h-1zM340 234h1v1h-1zM535 234h1v1h-1zM593 234h1v1h-1zM206 235h2v1h-2zM267 235h1v1h-1zM340 235h1v1h-1zM534 235h1v1h-1zM594 235h1v1h-1zM208 236h2v1h-2zM267 236h1v1h-1zM341 236h1v1h-1zM534 236h1v1h-1zM595 236h2v1h-2zM210 237h2v1h-2zM266 237h1v1h-1zM342 237h1v1h-1zM533 237h1v1h-1zM597 237h1v1h-1zM212 238h5v1h-5zM265 238h1v1h-1zM342 238h1v1h-1zM531 238h2v1h-2zM598 238h1v1h-1zM217 239h5v1h-5zM265 239h1v1h-1zM343 239h1v1h-1zM529 239h2v1h-2zM598 239h1v1h-1zM222 240h1v1h-1zM264 240h1v1h-1zM344 240h1v1h-1zM528 240h1v1h-1zM599 240h1v1h-1zM223 241h2v1h-2zM236 241h2v1h-2zM263 241h1v1h-1zM345 241h1v1h-1zM526 241h2v1h-2zM599 241h1v1h-1zM225 242h1v1h-1zM234 242h2v1h-2zM238 242h2v1h-2zM263 242h1v1h-1zM345 242h1v1h-1zM524 242h2v1h-2zM600 242h1v1h-1zM226 243h1v1h-1zM232 243h2v1h-2zM240 243h1v1h-1zM262 243h1v1h-1zM346 243h1v1h-1zM522 243h2v1h-2zM600 243h1v1h-1zM227 244h2v1h-2zM230 244h2v1h-2zM241 244h2v1h-2zM262 244h1v1h-1zM347 244h1v1h-1zM520 244h2v1h-2zM601 244h1v1h-1zM229 245h1v1h-1zM243 245h2v1h-2zM257 245h5v1h-5zM348 245h1v1h-1zM518 245h2v1h-2zM601 245h1v1h-1zM245 246h12v1h-12zM348 246h1v1h-1zM517 246h1v1h-1zM602 246h1v1h-1zM349 247h1v1h-1zM516 247h1v1h-1zM602 247h1v1h-1zM350 248h1v1h-1zM515 248h1v1h-1zM603 248h1v1h-1zM351 249h2v1h-2zM514 249h1v1h-1zM603 249h1v1h-1zM353 250h1v1h-1zM513 250h1v1h-1zM604 250h1v1h-1zM354 251h1v1h-1zM512 251h1v1h-1zM604 251h1v1h-1zM355 252h2v1h-2zM405 252h9v1h-9zM428 252h2v1h-2zM511 252h1v1h-1zM605 252h1v1h-1zM357 253h1v1h-1zM404 253h1v1h-1zM414 253h2v1h-2zM426 253h2v1h-2zM430 253h1v1h-1zM510 253h1v1h-1zM606 253h1v1h-1zM358 254h1v1h-1zM403 254h1v1h-1zM416 254h2v1h-2zM424 254h2v1h-2zM431 254h2v1h-2zM509 254h1v1h-1zM607 254h1v1h-1zM359 255h2v1h-2zM401 255h2v1h-2zM418 255h2v1h-2zM422 255h2v1h-2zM433 255h1v1h-1zM508 255h1v1h-1zM608 255h1v1h-1zM361 256h1v1h-1zM400 256h1v1h-1zM420 256h2v1h-2zM434 256h1v1h-1zM508 256h1v1h-1zM609 256h1v1h-1zM362 257h1v1h-1zM399 257h1v1h-1zM435 257h2v1h-2zM507 257h1v1h-1zM610 257h1v1h-1zM363 258h2v1h-2zM398 258h1v1h-1zM437 258h4v1h-4zM449 258h6v1h-6zM507 258h1v1h-1zM611 258h1v1h-1zM365 259h4v1h-4zM397 259h1v1h-1zM441 259h8v1h-8zM455 259h4v1h-4zM506 259h1v1h-1zM612 259h1v1h-1zM369 260h6v1h-6zM395 260h2v1h-2zM459 260h3v1h-3zM506 260h1v1h-1zM613 260h1v1h-1zM375 261h4v1h-4zM394 261h1v1h-1zM462 261h1v1h-1zM505 261h1v1h-1zM614 261h1v1h-1zM379 262h4v1h-4zM393 262h1v1h-1zM462 262h1v1h-1zM504 262h1v1h-1zM615 262h2v1h-2zM383 263h2v1h-2zM391 263h2v1h-2zM463 263h1v1h-1zM504 263h1v1h-1zM617 263h1v1h-1zM385 264h3v1h-3zM390 264h1v1h-1zM463 264h1v1h-1zM503 264h1v1h-1zM618 264h1v1h-1zM388 265h2v1h-2zM464 265h1v1h-1zM503 265h1v1h-1zM619 265h2v1h-2zM465 266h1v1h-1zM502 266h1v1h-1zM621 266h1v1h-1zM465 267h1v1h-1zM502 267h1v1h-1zM622 267h2v1h-2zM466 268h1v1h-1zM501 268h1v1h-1zM624 268h2v1h-2zM467 269h1v1h-1zM500 269h1v1h-1zM626 269h2v1h-2zM467 270h1v1h-1zM499 270h1v1h-1zM628 270h2v1h-2zM468 271h1v1h-1zM498 271h1v1h-1zM630 271h1v1h-1zM468 272h1v1h-1zM497 272h1v1h-1zM631 272h1v1h-1zM657 272h5v1h-5zM469 273h4v1h-4zM496 273h1v1h-1zM632 273h1v1h-1zM652 273h5v1h-5zM662 273h1v1h-1zM473 274h6v1h-6zM495 274h1v1h-1zM633 274h2v1h-2zM650 274h2v1h-2zM663 274h1v1h-1zM479 275h2v1h-2zM494 275h1v1h-1zM635 275h1v1h-1zM648 275h2v1h-2zM664 275h1v1h-1zM481 276h3v1h-3zM489 276h5v1h-5zM636 276h1v1h-1zM646 276h2v1h-2zM665 276h1v1h-1zM484 277h5v1h-5zM637 277h9v1h-9zM665 277h1v1h-1zM666 278h1v1h-1zM667 279h1v1h-1zM668 280h1v1h-1zM669 281h2v1h-2zM671 282h4v1h-4zM675 283h3v1h-3zM678 284h1v1h-1zM679 285h2v1h-2zM681 286h1v1h-1zM682 287h1v1h-1zM683 288h2v1h-2zM796 288h2v1h-2zM685 289h1v1h-1zM793 289h3v1h-3zM798 289h1v1h-1zM686 290h1v1h-1zM791 290h2v1h-2zM798 290h1v1h-1zM686 291h1v1h-1zM749 291h1v1h-1zM787 291h4v1h-4zM799 291h1v1h-1zM687 292h1v1h-1zM748 292h1v1h-1zM750 292h2v1h-2zM783 292h4v1h-4zM800 292h1v1h-1zM688 293h1v1h-1zM747 293h1v1h-1zM752 293h2v1h-2zM780 293h3v1h-3zM801 293h1v1h-1zM688 294h1v1h-1zM747 294h1v1h-1zM754 294h2v1h-2zM778 294h2v1h-2zM801 294h1v1h-1zM689 295h1v1h-1zM746 295h1v1h-1zM756 295h3v1h-3zM776 295h2v1h-2zM802 295h1v1h-1zM690 296h1v1h-1zM745 296h1v1h-1zM759 296h4v1h-4zM774 296h2v1h-2zM803 296h1v1h-1zM690 297h1v1h-1zM744 297h1v1h-1zM763 297h11v1h-11zM804 297h1v1h-1zM691 298h1v1h-1zM743 298h1v1h-1zM804 298h1v1h-1zM692 299h1v1h-1zM743 299h1v1h-1zM805 299h1v1h-1zM692 300h1v1h-1zM742 300h1v1h-1zM806 300h1v1h-1zM693 301h1v1h-1zM741 301h1v1h-1zM806 301h1v1h-1zM694 302h1v1h-1zM739 302h2v1h-2zM807 302h1v1h-1zM694 303h1v1h-1zM737 303h2v1h-2zM807 303h1v1h-1zM695 304h1v1h-1zM736 304h1v1h-1zM808 304h1v1h-1zM695 305h1v1h-1zM734 305h2v1h-2zM808 305h1v1h-1zM696 306h1v1h-1zM733 306h1v1h-1zM809 306h1v1h-1zM696 307h1v1h-1zM731 307h2v1h-2zM809 307h1v1h-1zM697 308h1v1h-1zM730 308h1v1h-1zM810 308h1v1h-1zM698 309h1v1h-1zM729 309h1v1h-1zM810 309h1v1h-1zM698 310h1v1h-1zM727 310h2v1h-2zM811 310h1v1h-1zM699 311h1v1h-1zM726 311h1v1h-1zM811 311h1v1h-1zM699 312h1v1h-1zM725 312h1v1h-1zM812 312h1v1h-1zM700 313h1v1h-1zM724 313h1v1h-1zM812 313h1v1h-1zM700 314h1v1h-1zM723 314h1v1h-1zM813 314h1v1h-1zM701 315h1v1h-1zM722 315h1v1h-1zM813 315h1v1h-1zM933 315h1v1h-1zM702 316h1v1h-1zM721 316h1v1h-1zM814 316h1v1h-1zM932 316h1v1h-1zM934 316h2v1h-2zM703 317h1v1h-1zM720 317h1v1h-1zM814 317h1v1h-1zM931 317h1v1h-1zM936 317h2v1h-2zM704 318h1v1h-1zM719 318h1v1h-1zM815 318h1v1h-1zM929 318h2v1h-2zM938 318h2v1h-2zM705 319h1v1h-1zM718 319h1v1h-1zM815 319h1v1h-1zM928 319h1v1h-1zM940 319h5v1h-5zM706 320h1v1h-1zM716 320h2v1h-2zM816 320h1v1h-1zM927 320h1v1h-1zM945 320h5v1h-5zM707 321h1v1h-1zM713 321h3v1h-3zM816 321h1v1h-1zM926 321h1v1h-1zM950 321h2v1h-2zM708 322h1v1h-1zM711 322h2v1h-2zM817 322h1v1h-1zM924 322h2v1h-2zM952 322h2v1h-2zM709 323h2v1h-2zM817 323h1v1h-1zM922 323h2v1h-2zM954 323h2v1h-2zM817 324h1v1h-1zM920 324h2v1h-2zM956 324h3v1h-3zM818 325h1v1h-1zM918 325h2v1h-2zM959 325h4v1h-4zM818 326h1v1h-1zM917 326h1v1h-1zM963 326h3v1h-3zM819 327h1v1h-1zM915 327h2v1h-2zM966 327h1v1h-1zM819 328h1v1h-1zM914 328h1v1h-1zM966 328h1v1h-1zM820 329h1v1h-1zM913 329h1v1h-1zM967 329h1v1h-1zM820 330h1v1h-1zM911 330h2v1h-2zM968 330h1v1h-1zM821 331h1v1h-1zM910 331h1v1h-1zM969 331h1v1h-1zM821 332h1v1h-1zM909 332h1v1h-1zM969 332h1v1h-1zM822 333h1v1h-1zM908 333h1v1h-1zM970 333h1v1h-1zM996 333h3v1h-3zM1017 333h5v1h-5zM822 334h1v1h-1zM907 334h1v1h-1zM971 334h1v1h-1zM993 334h3v1h-3zM999 334h4v1h-4zM1009 334h8v1h-8zM1022 334h1v1h-1zM823 335h1v1h-1zM906 335h1v1h-1zM972 335h1v1h-1zM991 335h2v1h-2zM1003 335h6v1h-6zM1023 335h2v1h-2zM823 336h1v1h-1zM905 336h1v1h-1zM972 336h1v1h-1zM988 336h3v1h-3zM1025 336h1v1h-1zM824 337h1v1h-1zM904 337h1v1h-1zM973 337h2v1h-2zM986 337h2v1h-2zM1026 337h1v1h-1zM824 338h1v1h-1zM903 338h1v1h-1zM975 338h2v1h-2zM984 338h2v1h-2zM1027 338h2v1h-2zM825 339h1v1h-1zM902 339h1v1h-1zM977 339h3v1h-3zM982 339h2v1h-2zM1029 339h1v1h-1zM826 340h1v1h-1zM901 340h1v1h-1zM980 340h2v1h-2zM1030 340h1v1h-1zM826 341h1v1h-1zM900 341h1v1h-1zM1031 341h2v1h-2zM827 342h1v1h-1zM899 342h1v1h-1zM1033 342h1v1h-1zM827 343h1v1h-1zM898 343h1v1h-1zM1034 343h1v1h-1zM828 344h1v1h-1zM897 344h1v1h-1zM1035 344h2v1h-2zM828 345h1v1h-1zM897 345h1v1h-1zM1037 345h10v1h-10zM829 346h1v1h-1zM896 346h1v1h-1zM1047 346h2v1h-2zM829 347h1v1h-1zM895 347h1v1h-1zM1049 347h3v1h-3zM830 348h1v1h-1zM894 348h1v1h-1zM1052 348h2v1h-2zM1077 348h1v1h-1zM830 349h1v1h-1zM893 349h1v1h-1zM1054 349h2v1h-2zM1075 349h2v1h-2zM1078 349h2v1h-2zM831 350h1v1h-1zM892 350h1v1h-1zM1056 350h1v1h-1zM1073 350h2v1h-2zM1080 350h1v1h-1zM831 351h1v1h-1zM891 351h1v1h-1zM1057 351h2v1h-2zM1072 351h1v1h-1zM1081 351h2v1h-2zM832 352h1v1h-1zM891 352h1v1h-1zM1059 352h2v1h-2zM1070 352h2v1h-2zM1083 352h2v1h-2zM832 353h1v1h-1zM890 353h1v1h-1zM1061 353h9v1h-9zM1085 353h12v1h-12zM833 354h1v1h-1zM889 354h1v1h-1zM1097 354h5v1h-5zM833 355h1v1h-1zM888 355h1v1h-1zM1102 355h1v1h-1zM833 356h1v1h-1zM887 356h1v1h-1zM1103 356h2v1h-2zM834 357h1v1h-1zM887 357h1v1h-1zM1105 357h1v1h-1zM834 358h1v1h-1zM886 358h1v1h-1zM1106 358h1v1h-1zM835 359h1v1h-1zM885 359h1v1h-1zM1107 359h2v1h-2zM835 360h1v1h-1zM884 360h1v1h-1zM1109 360h1v1h-1zM836 361h1v1h-1zM883 361h1v1h-1zM1110 361h1v1h-1zM836 362h1v1h-1zM881 362h2v1h-2zM1110 362h1v1h-1zM837 363h1v1h-1zM880 363h1v1h-1zM1111 363h1v1h-1zM837 364h1v1h-1zM879 364h1v1h-1zM1111 364h1v1h-1zM838 365h1v1h-1zM878 365h1v1h-1zM1112 365h1v1h-1zM839 366h1v1h-1zM877 366h1v1h-1zM1112 366h1v1h-1zM840 367h1v1h-1zM876 367h1v1h-1zM1113 367h1v1h-1zM841 368h1v1h-1zM875 368h1v1h-1zM1113 368h1v1h-1zM842 369h1v1h-1zM873 369h2v1h-2zM1114 369h1v1h-1zM843 370h1v1h-1zM872 370h1v1h-1zM1114 370h1v1h-1zM844 371h1v1h-1zM871 371h1v1h-1zM1115 371h1v1h-1zM845 372h1v1h-1zM870 372h1v1h-1zM1115 372h1v1h-1zM846 373h1v1h-1zM865 373h5v1h-5zM1116 373h1v1h-1zM847 374h2v1h-2zM860 374h5v1h-5zM1116 374h1v1h-1zM849 375h1v1h-1zM858 375h2v1h-2zM1117 375h1v1h-1zM850 376h1v1h-1zM856 376h2v1h-2zM1117 376h1v1h-1zM851 377h2v1h-2zM854 377h2v1h-2zM1118 377h1v1h-1zM853 378h1v1h-1zM1119 378h1v1h-1zM1120 379h1v1h-1zM1121 380h1v1h-1zM1122 381h1v1h-1zM1123 382h1v1h-1zM1124 383h1v1h-1zM1125 384h1v1h-1zM1126 385h1v1h-1zM1126 386h1v1h-1zM1127 387h1v1h-1zM1127 388h1v1h-1zM1128 389h1v1h-1zM1129 390h1v1h-1zM1129 391h1v1h-1zM1130 392h1v1h-1zM1131 393h1v1h-1zM1131 394h1v1h-1zM1132 395h1v1h-1zM1132 396h1v1h-1zM1133 397h1v1h-1zM1133 398h1v1h-1zM1134 399h1v1h-1zM1134 400h1v1h-1zM1135 401h1v1h-1zM1135 402h1v1h-1zM1136 403h1v1h-1zM1136 404h1v1h-1zM1137 405h1v1h-1zM1137 406h1v1h-1zM1137 407h1v1h-1zM1138 408h1v1h-1zM1138 409h1v1h-1zM1139 410h1v1h-1zM1139 411h1v1h-1zM1140 412h1v1h-1zM1140 413h1v1h-1zM1141 414h1v1h-1zM1141 415h1v1h-1zM1142 416h1v1h-1zM1142 417h1v1h-1zM1143 418h1v1h-1zM1143 419h1v1h-1zM1144 420h1v1h-1zM1144 421h1v1h-1zM1145 422h1v1h-1zM1145 423h1v1h-1zM1146 424h1v1h-1zM1146 425h1v1h-1zM1147 426h1v1h-1zM1147 427h1v1h-1zM1148 428h1v1h-1zM1148 429h1v1h-1zM1149 430h1v1h-1zM1149 431h1v1h-1zM1150 432h1v1h-1zM1150 433h1v1h-1zM1151 434h1v1h-1zM1152 435h1v1h-1zM1153 436h1v1h-1zM1153 437h1v1h-1zM1154 438h1v1h-1zM1155 439h1v1h-1zM1156 440h1v1h-1zM1156 441h1v1h-1zM1157 442h1v1h-1zM1158 443h1v1h-1zM1158 444h1v1h-1zM1159 445h1v1h-1zM1160 446h1v1h-1zM1161 447h1v1h-1zM1161 448h1v1h-1zM1162 449h1v1h-1zM1163 450h1v1h-1zM1164 451h1v1h-1zM1164 452h1v1h-1zM1165 453h2v1h-2zM1167 454h2v1h-2zM1169 455h3v1h-3zM1172 456h3v1h-3zM1175 457h2v1h-2zM1177 458h3v1h-3zM1180 459h2v1h-2zM1182 460h1v1h-1zM1183 461h1v1h-1zM1184 462h1v1h-1zM1185 463h1v1h-1zM1185 464h1v1h-1zM1186 465h1v1h-1zM1187 466h1v1h-1zM1188 467h1v1h-1zM1189 468h1v1h-1zM1190 469h1v1h-1zM1190 470h1v1h-1zM1191 471h1v1h-1zM1191 472h1v1h-1zM1192 473h1v1h-1zM1193 474h1v1h-1zM1193 475h1v1h-1zM1194 476h1v1h-1zM1195 477h1v1h-1zM1195 478h1v1h-1zM1196 479h1v1h-1zM1196 480h1v1h-1zM1197 481h1v1h-1zM1198 482h1v1h-1zM1198 483h1v1h-1zM1199 484h1v1h-1zM1200 485h1v1h-1zM1200 486h1v1h-1zM1201 487h1v1h-1zM1202 488h1v1h-1zM1202 489h1v1h-1zM1203 490h1v1h-1zM1204 491h1v1h-1zM1204 492h1v1h-1zM1205 493h1v1h-1zM1205 494h1v1h-1zM1206 495h1v1h-1zM1206 496h1v1h-1zM1206 497h1v1h-1zM1207 498h1v1h-1zM1207 499h1v1h-1zM1208 500h1v1h-1zM1208 501h1v1h-1zM1208 502h1v1h-1zM1209 503h1v1h-1zM1209 504h1v1h-1zM1209 505h1v1h-1zM1210 506h1v1h-1zM1210 507h1v1h-1zM1210 508h1v1h-1zM1211 509h1v1h-1zM1211 510h1v1h-1zM1212 511h1v1h-1zM1212 512h1v1h-1zM1212 513h1v1h-1zM1213 514h1v1h-1zM1213 515h1v1h-1zM1214 516h1v1h-1zM1214 517h1v1h-1zM1215 518h1v1h-1zM1215 519h1v1h-1zM1216 520h1v1h-1zM1216 521h1v1h-1zM1217 522h1v1h-1zM1217 523h1v1h-1zM1218 524h1v1h-1zM1218 525h1v1h-1zM1219 526h1v1h-1zM1219 527h1v1h-1zM1220 528h1v1h-1zM1220 529h1v1h-1zM1221 530h1v1h-1zM1221 531h1v1h-1zM1222 532h1v1h-1zM1223 533h1v1h-1zM1224 534h1v1h-1zM1260 534h2v1h-2zM1225 535h1v1h-1zM1258 535h2v1h-2zM1226 536h1v1h-1zM1256 536h2v1h-2zM1227 537h1v1h-1zM1254 537h2v1h-2zM1228 538h1v1h-1zM1233 538h6v1h-6zM1251 538h3v1h-3zM1229 539h4v1h-4zM1239 539h4v1h-4zM1247 539h4v1h-4zM1243 540h4v1h-4z" fill="#ffa500"/>
</g>
<g shape-rendering="crispEdges">
<rect x="4" y="27" width="6" height="6" fill="#ff0000"/><rect x="6" y="29" width="2" height="2" fill="#fff"/>
<rect x="1591" y="27" width="6" height="6" fill="#ff0000"/><rect x="1593" y="29" width="2" height="2" fill="#fff"/>
<rect x="4" y="111" width="6" height="6" fill="#ff0000"/><rect x="6" y="113" width="2" height="2" fill="#fff"/>
<rect x="1591" y="111" width="6" height="6" fill="#ff0000"/><rect x="1593" y="113" width="2" height="2" fill="#fff"/>
<rect x="4" y="193" width="6" height="6" fill="#ff0000"/><rect x="6" y="195" width="2" height="2" fill="#fff"/>
<rect x="1591" y="193" width="6" height="6" fill="#ff0000"/><rect x="1593" y="195" width="2" height="2" fill="#fff"/>
<rect x="4" y="290" width="6" height="6" fill="#ff0000"/><rect x="6" y="292" width="2" height="2" fill="#fff"/>
<rect x="1591" y="290" width="6" height="6" fill="#ff0000"/><rect x="1593" y="292" width="2" height="2" fill="#fff"/>
<rect x="4" y="356" width="6" height="6" fill="#ff0000"/><rect x="6" y="358" width="2" height="2" fill="#fff"/>
<rect x="1591" y="356" width="6" height="6" fill="#ff0000"/><rect x="1593" y="358" width="2" height="2" fill="#fff"/>
<rect x="4" y="420" width="6" height="6" fill="#00ff00"/><rect x="6" y="422" width="2" height="2" fill="#fff"/>
<rect x="1591" y="420" width="6" height="6" fill="#00ff00"/><rect x="1593" y="422" width="2" height="2" fill="#fff"/>
<rect x="4" y="495" width="6" height="6" fill="#0000ff"/><rect x="6" y="497" width="2" height="2" fill="#fff"/>
<rect x="1591" y="495" width="6" height="6" fill="#0000ff"/><rect x="1593" y="497" width="2" height="2" fill="#fff"/>
</g>
<path d="M1273,28 L1282,28 L1277.5,33 Z" fill="#c0c0c0"/>
<path d="M8,34 L14,34 L11,37.5 Z" fill="#000"/>
<text x="20.4" y="39" font-size="10.0" fill="#000" stroke="#000" stroke-width="0.12" textLength="64.90" lengthAdjust="spacingAndGlyphs" >USDCAD,Daily</text>
<text x="92.5" y="39" font-size="10.0" fill="#000" stroke="#000" stroke-width="0.12" textLength="32.50" lengthAdjust="spacingAndGlyphs" >1.21172</text>
<text x="128.5" y="39" font-size="10.0" fill="#000" stroke="#000" stroke-width="0.12" textLength="32.50" lengthAdjust="spacingAndGlyphs" >1.21329</text>
<text x="164.5" y="39" font-size="10.0" fill="#000" stroke="#000" stroke-width="0.12" textLength="32.50" lengthAdjust="spacingAndGlyphs" >1.21093</text>
<text x="200.4" y="39" font-size="10.0" fill="#000" stroke="#000" stroke-width="0.12" textLength="32.50" lengthAdjust="spacingAndGlyphs" >1.21314</text>
<g shape-rendering="crispEdges">
<rect x="1598" y="52" width="2" height="1" fill="#000"/>
<rect x="1598" y="85" width="2" height="1" fill="#000"/>
<rect x="1598" y="118" width="2" height="1" fill="#000"/>
<rect x="1598" y="151" width="2" height="1" fill="#000"/>
<rect x="1598" y="184" width="2" height="1" fill="#000"/>
<rect x="1598" y="217" width="2" height="1" fill="#000"/>
<rect x="1598" y="250" width="2" height="1" fill="#000"/>
<rect x="1598" y="283" width="2" height="1" fill="#000"/>
<rect x="1598" y="316" width="2" height="1" fill="#000"/>
<rect x="1598" y="349" width="2" height="1" fill="#000"/>
<rect x="1598" y="382" width="2" height="1" fill="#000"/>
<rect x="1598" y="415" width="2" height="1" fill="#000"/>
<rect x="1598" y="448" width="2" height="1" fill="#000"/>
<rect x="1598" y="481" width="2" height="1" fill="#000"/>
<rect x="1598" y="514" width="2" height="1" fill="#000"/>
<rect x="1598" y="547" width="2" height="1" fill="#000"/>
<rect x="1598" y="580" width="2" height="1" fill="#000"/>
</g>
<text x="1603.4" y="56" font-size="10.0" fill="#000" stroke="#000" stroke-width="0.12" textLength="32.82" lengthAdjust="spacingAndGlyphs" >1.31760</text>
<text x="1603.4" y="89" font-size="10.0" fill="#000" stroke="#000" stroke-width="0.12" textLength="32.82" lengthAdjust="spacingAndGlyphs" >1.31040</text>
<text x="1603.4" y="122" font-size="10.0" fill="#000" stroke="#000" stroke-width="0.12" textLength="32.82" lengthAdjust="spacingAndGlyphs" >1.30320</text>
<text x="1603.4" y="155" font-size="10.0" fill="#000" stroke="#000" stroke-width="0.12" textLength="32.82" lengthAdjust="spacingAndGlyphs" >1.29600</text>
<text x="1603.4" y="188" font-size="10.0" fill="#000" stroke="#000" stroke-width="0.12" textLength="32.82" lengthAdjust="spacingAndGlyphs" >1.28880</text>
<text x="1603.4" y="221" font-size="10.0" fill="#000" stroke="#000" stroke-width="0.12" textLength="32.82" lengthAdjust="spacingAndGlyphs" >1.28160</text>
<text x="1603.4" y="254" font-size="10.0" fill="#000" stroke="#000" stroke-width="0.12" textLength="32.82" lengthAdjust="spacingAndGlyphs" >1.27440</text>
<text x="1603.4" y="287" font-size="10.0" fill="#000" stroke="#000" stroke-width="0.12" textLength="32.82" lengthAdjust="spacingAndGlyphs" >1.26720</text>
<text x="1603.4" y="320" font-size="10.0" fill="#000" stroke="#000" stroke-width="0.12" textLength="32.82" lengthAdjust="spacingAndGlyphs" >1.25980</text>
<text x="1603.4" y="353" font-size="10.0" fill="#000" stroke="#000" stroke-width="0.12" textLength="32.82" lengthAdjust="spacingAndGlyphs" >1.25260</text>
<text x="1603.4" y="386" font-size="10.0" fill="#000" stroke="#000" stroke-width="0.12" textLength="32.82" lengthAdjust="spacingAndGlyphs" >1.24540</text>
<text x="1603.4" y="419" font-size="10.0" fill="#000" stroke="#000" stroke-width="0.12" textLength="32.82" lengthAdjust="spacingAndGlyphs" >1.23820</text>
<text x="1603.4" y="452" font-size="10.0" fill="#000" stroke="#000" stroke-width="0.12" textLength="32.82" lengthAdjust="spacingAndGlyphs" >1.23100</text>
<text x="1603.4" y="485" font-size="10.0" fill="#000" stroke="#000" stroke-width="0.12" textLength="32.82" lengthAdjust="spacingAndGlyphs" >1.22380</text>
<text x="1603.4" y="518" font-size="10.0" fill="#000" stroke="#000" stroke-width="0.12" textLength="32.82" lengthAdjust="spacingAndGlyphs" >1.21660</text>
<text x="1603.4" y="551" font-size="10.0" fill="#000" stroke="#000" stroke-width="0.12" textLength="32.82" lengthAdjust="spacingAndGlyphs" >1.20940</text>
<text x="1603.4" y="584" font-size="10.0" fill="#000" stroke="#000" stroke-width="0.12" textLength="32.82" lengthAdjust="spacingAndGlyphs" >1.20220</text>
<rect x="1599" y="24" width="40" height="11" fill="#ff0000" shape-rendering="crispEdges"/>
<text x="1603.4" y="33.5" font-size="10.0" fill="#fff" stroke="#fff" stroke-width="0.12" textLength="32.82" lengthAdjust="spacingAndGlyphs" >1.32258</text>
<rect x="1599" y="108" width="40" height="11" fill="#ff0000" shape-rendering="crispEdges"/>
<text x="1603.4" y="117.5" font-size="10.0" fill="#fff" stroke="#fff" stroke-width="0.12" textLength="32.82" lengthAdjust="spacingAndGlyphs" >1.30415</text>
<rect x="1599" y="190" width="40" height="11" fill="#ff0000" shape-rendering="crispEdges"/>
<text x="1603.4" y="199.5" font-size="10.0" fill="#fff" stroke="#fff" stroke-width="0.12" textLength="32.82" lengthAdjust="spacingAndGlyphs" >1.28616</text>
<rect x="1599" y="287" width="40" height="11" fill="#ff0000" shape-rendering="crispEdges"/>
<text x="1603.4" y="296.5" font-size="10.0" fill="#fff" stroke="#fff" stroke-width="0.12" textLength="32.82" lengthAdjust="spacingAndGlyphs" >1.26503</text>
<rect x="1599" y="353" width="40" height="11" fill="#ff0000" shape-rendering="crispEdges"/>
<text x="1603.4" y="362.5" font-size="10.0" fill="#fff" stroke="#fff" stroke-width="0.12" textLength="32.82" lengthAdjust="spacingAndGlyphs" >1.25043</text>
<rect x="1599" y="417" width="40" height="11" fill="#00ff00" shape-rendering="crispEdges"/>
<text x="1603.4" y="426.5" font-size="10.0" fill="#fff" stroke="#fff" stroke-width="0.12" textLength="32.82" lengthAdjust="spacingAndGlyphs" >1.23653</text>
<rect x="1599" y="492" width="40" height="11" fill="#0000ff" shape-rendering="crispEdges"/>
<text x="1603.4" y="501.5" font-size="10.0" fill="#fff" stroke="#fff" stroke-width="0.12" textLength="32.82" lengthAdjust="spacingAndGlyphs" >1.22000</text>
<rect x="1599" y="525" width="40" height="11" fill="#000000" shape-rendering="crispEdges"/>
<text x="1603.4" y="534.5" font-size="10.0" fill="#fff" stroke="#fff" stroke-width="0.12" textLength="32.82" lengthAdjust="spacingAndGlyphs" >1.21314</text>
<g clip-path="url(#cr)" shape-rendering="crispEdges">
<line x1="6" y1="616.5" x2="1597" y2="616.5" stroke="#c0c0c0" stroke-dasharray="3,3"/>
<line x1="6" y1="656.5" x2="1597" y2="656.5" stroke="#c0c0c0" stroke-dasharray="3,3"/>
<path d="M539 630h11v1h-11zM565 630h1v1h-1zM277 631h1v1h-1zM535 631h4v1h-4zM550 631h2v1h-2zM563 631h2v1h-2zM566 631h1v1h-1zM932 631h2v1h-2zM275 632h2v1h-2zM278 632h1v1h-1zM515 632h4v1h-4zM532 632h3v1h-3zM552 632h1v1h-1zM561 632h2v1h-2zM567 632h2v1h-2zM901 632h1v1h-1zM930 632h2v1h-2zM934 632h1v1h-1zM989 632h1v1h-1zM273 633h2v1h-2zM279 633h1v1h-1zM511 633h4v1h-4zM519 633h2v1h-2zM529 633h3v1h-3zM553 633h2v1h-2zM560 633h1v1h-1zM569 633h1v1h-1zM900 633h1v1h-1zM902 633h2v1h-2zM928 633h2v1h-2zM935 633h2v1h-2zM988 633h1v1h-1zM990 633h2v1h-2zM272 634h1v1h-1zM280 634h1v1h-1zM509 634h2v1h-2zM521 634h3v1h-3zM527 634h2v1h-2zM555 634h2v1h-2zM558 634h2v1h-2zM570 634h1v1h-1zM724 634h2v1h-2zM899 634h1v1h-1zM904 634h2v1h-2zM926 634h2v1h-2zM937 634h1v1h-1zM987 634h1v1h-1zM992 634h1v1h-1zM1076 634h2v1h-2zM12 635h3v1h-3zM270 635h2v1h-2zM281 635h2v1h-2zM507 635h2v1h-2zM524 635h3v1h-3zM557 635h1v1h-1zM571 635h2v1h-2zM722 635h2v1h-2zM726 635h2v1h-2zM765 635h2v1h-2zM897 635h2v1h-2zM906 635h2v1h-2zM913 635h13v1h-13zM938 635h1v1h-1zM986 635h1v1h-1zM993 635h2v1h-2zM1074 635h2v1h-2zM1078 635h1v1h-1zM10 636h2v1h-2zM15 636h4v1h-4zM269 636h1v1h-1zM283 636h1v1h-1zM397 636h2v1h-2zM491 636h3v1h-3zM506 636h1v1h-1zM573 636h4v1h-4zM720 636h2v1h-2zM728 636h1v1h-1zM764 636h1v1h-1zM767 636h4v1h-4zM896 636h1v1h-1zM908 636h5v1h-5zM939 636h2v1h-2zM985 636h1v1h-1zM995 636h2v1h-2zM1072 636h2v1h-2zM1079 636h1v1h-1zM8 637h2v1h-2zM19 637h3v1h-3zM268 637h1v1h-1zM284 637h1v1h-1zM307 637h3v1h-3zM396 637h1v1h-1zM399 637h2v1h-2zM444 637h3v1h-3zM487 637h4v1h-4zM494 637h2v1h-2zM505 637h1v1h-1zM577 637h8v1h-8zM718 637h2v1h-2zM729 637h2v1h-2zM763 637h1v1h-1zM771 637h12v1h-12zM895 637h1v1h-1zM941 637h4v1h-4zM964 637h2v1h-2zM984 637h1v1h-1zM997 637h2v1h-2zM1070 637h2v1h-2zM1079 637h1v1h-1zM6 638h2v1h-2zM22 638h1v1h-1zM267 638h1v1h-1zM285 638h4v1h-4zM303 638h4v1h-4zM310 638h1v1h-1zM395 638h1v1h-1zM401 638h3v1h-3zM429 638h2v1h-2zM442 638h2v1h-2zM447 638h2v1h-2zM481 638h6v1h-6zM496 638h2v1h-2zM503 638h2v1h-2zM585 638h5v1h-5zM653 638h9v1h-9zM717 638h1v1h-1zM731 638h2v1h-2zM761 638h2v1h-2zM783 638h4v1h-4zM894 638h1v1h-1zM945 638h6v1h-6zM962 638h2v1h-2zM966 638h1v1h-1zM983 638h1v1h-1zM999 638h2v1h-2zM1020 638h5v1h-5zM1069 638h1v1h-1zM1080 638h1v1h-1zM5 639h1v1h-1zM23 639h2v1h-2zM68 639h10v1h-10zM267 639h1v1h-1zM289 639h14v1h-14zM311 639h2v1h-2zM395 639h1v1h-1zM404 639h2v1h-2zM428 639h1v1h-1zM431 639h2v1h-2zM440 639h2v1h-2zM449 639h3v1h-3zM477 639h4v1h-4zM498 639h2v1h-2zM502 639h1v1h-1zM590 639h2v1h-2zM651 639h2v1h-2zM662 639h1v1h-1zM717 639h1v1h-1zM733 639h2v1h-2zM760 639h1v1h-1zM787 639h11v1h-11zM883 639h11v1h-11zM951 639h2v1h-2zM960 639h2v1h-2zM967 639h1v1h-1zM982 639h1v1h-1zM1001 639h3v1h-3zM1017 639h3v1h-3zM1025 639h6v1h-6zM1044 639h2v1h-2zM1067 639h2v1h-2zM1081 639h1v1h-1zM25 640h1v1h-1zM65 640h3v1h-3zM78 640h1v1h-1zM266 640h1v1h-1zM313 640h1v1h-1zM394 640h1v1h-1zM406 640h2v1h-2zM428 640h1v1h-1zM433 640h3v1h-3zM438 640h2v1h-2zM452 640h2v1h-2zM476 640h1v1h-1zM500 640h2v1h-2zM592 640h2v1h-2zM649 640h2v1h-2zM663 640h1v1h-1zM716 640h1v1h-1zM735 640h4v1h-4zM759 640h1v1h-1zM798 640h1v1h-1zM879 640h4v1h-4zM953 640h3v1h-3zM958 640h2v1h-2zM968 640h1v1h-1zM980 640h2v1h-2zM1004 640h5v1h-5zM1015 640h2v1h-2zM1031 640h2v1h-2zM1041 640h3v1h-3zM1046 640h2v1h-2zM1065 640h2v1h-2zM1082 640h1v1h-1zM26 641h1v1h-1zM35 641h4v1h-4zM51 641h6v1h-6zM63 641h2v1h-2zM79 641h2v1h-2zM265 641h1v1h-1zM314 641h1v1h-1zM393 641h1v1h-1zM408 641h1v1h-1zM427 641h1v1h-1zM436 641h2v1h-2zM454 641h1v1h-1zM475 641h1v1h-1zM594 641h2v1h-2zM648 641h1v1h-1zM663 641h1v1h-1zM716 641h1v1h-1zM739 641h14v1h-14zM758 641h1v1h-1zM799 641h1v1h-1zM876 641h3v1h-3zM956 641h2v1h-2zM969 641h2v1h-2zM978 641h2v1h-2zM1009 641h6v1h-6zM1033 641h3v1h-3zM1039 641h2v1h-2zM1048 641h2v1h-2zM1064 641h1v1h-1zM1083 641h1v1h-1zM27 642h2v1h-2zM31 642h4v1h-4zM39 642h4v1h-4zM47 642h4v1h-4zM57 642h6v1h-6zM81 642h1v1h-1zM264 642h1v1h-1zM315 642h2v1h-2zM392 642h1v1h-1zM409 642h2v1h-2zM426 642h1v1h-1zM455 642h1v1h-1zM474 642h1v1h-1zM596 642h3v1h-3zM619 642h11v1h-11zM646 642h2v1h-2zM664 642h1v1h-1zM715 642h1v1h-1zM753 642h5v1h-5zM800 642h1v1h-1zM874 642h2v1h-2zM971 642h1v1h-1zM976 642h2v1h-2zM1036 642h3v1h-3zM1050 642h2v1h-2zM1062 642h2v1h-2zM1083 642h1v1h-1zM1097 642h6v1h-6zM29 643h2v1h-2zM43 643h4v1h-4zM82 643h1v1h-1zM263 643h1v1h-1zM317 643h1v1h-1zM391 643h1v1h-1zM411 643h2v1h-2zM425 643h1v1h-1zM456 643h1v1h-1zM473 643h1v1h-1zM599 643h2v1h-2zM615 643h4v1h-4zM630 643h1v1h-1zM645 643h1v1h-1zM665 643h1v1h-1zM715 643h1v1h-1zM801 643h2v1h-2zM861 643h2v1h-2zM872 643h2v1h-2zM972 643h1v1h-1zM974 643h2v1h-2zM1052 643h10v1h-10zM1084 643h1v1h-1zM1089 643h8v1h-8zM1103 643h4v1h-4zM83 644h2v1h-2zM263 644h1v1h-1zM318 644h2v1h-2zM391 644h1v1h-1zM413 644h1v1h-1zM425 644h1v1h-1zM457 644h1v1h-1zM473 644h1v1h-1zM601 644h3v1h-3zM609 644h6v1h-6zM631 644h2v1h-2zM643 644h2v1h-2zM666 644h1v1h-1zM714 644h1v1h-1zM803 644h1v1h-1zM860 644h1v1h-1zM863 644h4v1h-4zM870 644h2v1h-2zM973 644h1v1h-1zM1085 644h4v1h-4zM1107 644h3v1h-3zM85 645h2v1h-2zM262 645h1v1h-1zM320 645h2v1h-2zM390 645h1v1h-1zM414 645h2v1h-2zM424 645h1v1h-1zM458 645h1v1h-1zM472 645h1v1h-1zM604 645h5v1h-5zM633 645h1v1h-1zM641 645h2v1h-2zM667 645h1v1h-1zM714 645h1v1h-1zM804 645h1v1h-1zM859 645h1v1h-1zM867 645h3v1h-3zM1110 645h1v1h-1zM87 646h4v1h-4zM97 646h5v1h-5zM257 646h5v1h-5zM322 646h2v1h-2zM388 646h2v1h-2zM416 646h1v1h-1zM423 646h1v1h-1zM459 646h1v1h-1zM471 646h1v1h-1zM634 646h1v1h-1zM640 646h1v1h-1zM667 646h1v1h-1zM713 646h1v1h-1zM805 646h1v1h-1zM858 646h1v1h-1zM1111 646h1v1h-1zM91 647h6v1h-6zM102 647h2v1h-2zM253 647h4v1h-4zM324 647h5v1h-5zM348 647h11v1h-11zM372 647h3v1h-3zM386 647h2v1h-2zM417 647h2v1h-2zM422 647h1v1h-1zM460 647h1v1h-1zM470 647h1v1h-1zM635 647h2v1h-2zM638 647h2v1h-2zM668 647h1v1h-1zM673 647h14v1h-14zM713 647h1v1h-1zM806 647h2v1h-2zM857 647h1v1h-1zM1112 647h1v1h-1zM104 648h2v1h-2zM252 648h1v1h-1zM329 648h6v1h-6zM345 648h3v1h-3zM359 648h2v1h-2zM369 648h3v1h-3zM375 648h2v1h-2zM384 648h2v1h-2zM419 648h2v1h-2zM422 648h1v1h-1zM461 648h9v1h-9zM637 648h1v1h-1zM669 648h4v1h-4zM687 648h4v1h-4zM712 648h1v1h-1zM808 648h1v1h-1zM857 648h1v1h-1zM1113 648h2v1h-2zM106 649h2v1h-2zM113 649h6v1h-6zM251 649h1v1h-1zM335 649h4v1h-4zM343 649h2v1h-2zM361 649h3v1h-3zM367 649h2v1h-2zM377 649h3v1h-3zM382 649h2v1h-2zM421 649h1v1h-1zM691 649h4v1h-4zM712 649h1v1h-1zM809 649h2v1h-2zM856 649h1v1h-1zM1115 649h1v1h-1zM108 650h5v1h-5zM119 650h4v1h-4zM129 650h6v1h-6zM250 650h1v1h-1zM339 650h4v1h-4zM364 650h3v1h-3zM380 650h2v1h-2zM695 650h4v1h-4zM711 650h1v1h-1zM811 650h2v1h-2zM828 650h3v1h-3zM844 650h3v1h-3zM855 650h1v1h-1zM1116 650h1v1h-1zM123 651h6v1h-6zM135 651h4v1h-4zM249 651h1v1h-1zM699 651h3v1h-3zM711 651h1v1h-1zM813 651h2v1h-2zM825 651h3v1h-3zM831 651h2v1h-2zM841 651h3v1h-3zM847 651h4v1h-4zM854 651h1v1h-1zM1117 651h9v1h-9zM139 652h3v1h-3zM236 652h3v1h-3zM248 652h1v1h-1zM702 652h2v1h-2zM710 652h1v1h-1zM815 652h4v1h-4zM823 652h2v1h-2zM833 652h3v1h-3zM839 652h2v1h-2zM851 652h3v1h-3zM1126 652h2v1h-2zM1173 652h1v1h-1zM142 653h1v1h-1zM205 653h4v1h-4zM217 653h6v1h-6zM234 653h2v1h-2zM239 653h2v1h-2zM247 653h1v1h-1zM704 653h2v1h-2zM710 653h1v1h-1zM819 653h4v1h-4zM836 653h3v1h-3zM1128 653h2v1h-2zM1172 653h1v1h-1zM1174 653h2v1h-2zM143 654h2v1h-2zM204 654h1v1h-1zM209 654h8v1h-8zM223 654h2v1h-2zM232 654h2v1h-2zM241 654h3v1h-3zM246 654h1v1h-1zM706 654h2v1h-2zM709 654h1v1h-1zM1130 654h2v1h-2zM1171 654h1v1h-1zM1176 654h2v1h-2zM1260 654h2v1h-2zM145 655h1v1h-1zM203 655h1v1h-1zM225 655h3v1h-3zM230 655h2v1h-2zM244 655h2v1h-2zM708 655h2v1h-2zM1132 655h3v1h-3zM1170 655h1v1h-1zM1178 655h2v1h-2zM1237 655h2v1h-2zM1258 655h2v1h-2zM146 656h1v1h-1zM202 656h1v1h-1zM228 656h2v1h-2zM1135 656h2v1h-2zM1169 656h1v1h-1zM1180 656h2v1h-2zM1236 656h1v1h-1zM1239 656h2v1h-2zM1256 656h2v1h-2zM147 657h2v1h-2zM173 657h2v1h-2zM187 657h3v1h-3zM201 657h1v1h-1zM1137 657h3v1h-3zM1168 657h1v1h-1zM1182 657h2v1h-2zM1235 657h1v1h-1zM1241 657h3v1h-3zM1254 657h2v1h-2zM149 658h1v1h-1zM171 658h2v1h-2zM175 658h4v1h-4zM183 658h4v1h-4zM190 658h2v1h-2zM201 658h1v1h-1zM1140 658h5v1h-5zM1167 658h1v1h-1zM1184 658h1v1h-1zM1233 658h2v1h-2zM1244 658h10v1h-10zM150 659h2v1h-2zM170 659h1v1h-1zM179 659h4v1h-4zM192 659h1v1h-1zM200 659h1v1h-1zM1145 659h16v1h-16zM1166 659h1v1h-1zM1185 659h2v1h-2zM1232 659h1v1h-1zM152 660h2v1h-2zM169 660h1v1h-1zM193 660h2v1h-2zM199 660h1v1h-1zM1161 660h5v1h-5zM1187 660h2v1h-2zM1231 660h1v1h-1zM154 661h2v1h-2zM167 661h2v1h-2zM195 661h2v1h-2zM198 661h1v1h-1zM1189 661h2v1h-2zM1230 661h1v1h-1zM156 662h5v1h-5zM166 662h1v1h-1zM197 662h1v1h-1zM1191 662h2v1h-2zM1227 662h3v1h-3zM161 663h5v1h-5zM1193 663h3v1h-3zM1201 663h6v1h-6zM1223 663h4v1h-4zM1196 664h5v1h-5zM1207 664h2v1h-2zM1219 664h4v1h-4zM1209 665h3v1h-3zM1215 665h4v1h-4zM1212 666h3v1h-3z" fill="#1e90ff"/>
</g>
<text x="9.2" y="598" font-size="10.0" fill="#000" stroke="#000" stroke-width="0.12" textLength="67.80" lengthAdjust="spacingAndGlyphs" >RSI(14) 32.1571</text>
<g shape-rendering="crispEdges">
<rect x="1598" y="586" width="2" height="1" fill="#000"/>
<rect x="1598" y="616" width="2" height="1" fill="#000"/>
<rect x="1598" y="656" width="2" height="1" fill="#000"/>
<rect x="1598" y="686" width="2" height="1" fill="#000"/>
</g>
<text x="1601" y="595.9" font-size="10.0" fill="#000" stroke="#000" stroke-width="0.12" textLength="15.15" lengthAdjust="spacingAndGlyphs" >100</text>
<text x="1601" y="620.2" font-size="10.0" fill="#000" stroke="#000" stroke-width="0.12" textLength="10.10" lengthAdjust="spacingAndGlyphs" >70</text>
<text x="1601" y="659.6" font-size="10.0" fill="#000" stroke="#000" stroke-width="0.12" textLength="10.10" lengthAdjust="spacingAndGlyphs" >30</text>
<text x="1601" y="684.1" font-size="10.0" fill="#000" stroke="#000" stroke-width="0.12" textLength="5.05" lengthAdjust="spacingAndGlyphs" >0</text>
<g clip-path="url(#cd)" shape-rendering="crispEdges">
<rect x="5" y="706" width="1" height="32" fill="#c0c0c0"/>
<rect x="13" y="706" width="1" height="26" fill="#c0c0c0"/>
<rect x="21" y="706" width="1" height="22" fill="#c0c0c0"/>
<rect x="29" y="706" width="1" height="23" fill="#c0c0c0"/>
<rect x="37" y="706" width="1" height="22" fill="#c0c0c0"/>
<rect x="45" y="706" width="1" height="22" fill="#c0c0c0"/>
<rect x="53" y="706" width="1" height="21" fill="#c0c0c0"/>
<rect x="61" y="706" width="1" height="21" fill="#c0c0c0"/>
<rect x="69" y="706" width="1" height="19" fill="#c0c0c0"/>
<rect x="77" y="706" width="1" height="18" fill="#c0c0c0"/>
<rect x="85" y="706" width="1" height="20" fill="#c0c0c0"/>
<rect x="93" y="706" width="1" height="23" fill="#c0c0c0"/>
<rect x="101" y="706" width="1" height="24" fill="#c0c0c0"/>
<rect x="109" y="706" width="1" height="28" fill="#c0c0c0"/>
<rect x="117" y="706" width="1" height="29" fill="#c0c0c0"/>
<rect x="125" y="706" width="1" height="32" fill="#c0c0c0"/>
<rect x="133" y="706" width="1" height="33" fill="#c0c0c0"/>
<rect x="141" y="706" width="1" height="35" fill="#c0c0c0"/>
<rect x="149" y="706" width="1" height="40" fill="#c0c0c0"/>
<rect x="157" y="706" width="1" height="48" fill="#c0c0c0"/>
<rect x="165" y="706" width="1" height="55" fill="#c0c0c0"/>
<rect x="173" y="706" width="1" height="57" fill="#c0c0c0"/>
<rect x="181" y="706" width="1" height="60" fill="#c0c0c0"/>
<rect x="189" y="706" width="1" height="61" fill="#c0c0c0"/>
<rect x="197" y="706" width="1" height="66" fill="#c0c0c0"/>
<rect x="205" y="706" width="1" height="66" fill="#c0c0c0"/>
<rect x="213" y="706" width="1" height="65" fill="#c0c0c0"/>
<rect x="221" y="706" width="1" height="63" fill="#c0c0c0"/>
<rect x="229" y="706" width="1" height="64" fill="#c0c0c0"/>
<rect x="237" y="706" width="1" height="62" fill="#c0c0c0"/>
<rect x="245" y="706" width="1" height="62" fill="#c0c0c0"/>
<rect x="253" y="706" width="1" height="58" fill="#c0c0c0"/>
<rect x="261" y="706" width="1" height="54" fill="#c0c0c0"/>
<rect x="269" y="706" width="1" height="45" fill="#c0c0c0"/>
<rect x="277" y="706" width="1" height="34" fill="#c0c0c0"/>
<rect x="285" y="706" width="1" height="29" fill="#c0c0c0"/>
<rect x="293" y="706" width="1" height="26" fill="#c0c0c0"/>
<rect x="301" y="706" width="1" height="23" fill="#c0c0c0"/>
<rect x="309" y="706" width="1" height="19" fill="#c0c0c0"/>
<rect x="317" y="706" width="1" height="20" fill="#c0c0c0"/>
<rect x="325" y="706" width="1" height="23" fill="#c0c0c0"/>
<rect x="333" y="706" width="1" height="26" fill="#c0c0c0"/>
<rect x="341" y="706" width="1" height="29" fill="#c0c0c0"/>
<rect x="349" y="706" width="1" height="30" fill="#c0c0c0"/>
<rect x="357" y="706" width="1" height="31" fill="#c0c0c0"/>
<rect x="365" y="706" width="1" height="33" fill="#c0c0c0"/>
<rect x="373" y="706" width="1" height="33" fill="#c0c0c0"/>
<rect x="381" y="706" width="1" height="35" fill="#c0c0c0"/>
<rect x="389" y="706" width="1" height="34" fill="#c0c0c0"/>
<rect x="397" y="706" width="1" height="28" fill="#c0c0c0"/>
<rect x="405" y="706" width="1" height="25" fill="#c0c0c0"/>
<rect x="413" y="706" width="1" height="25" fill="#c0c0c0"/>
<rect x="421" y="706" width="1" height="29" fill="#c0c0c0"/>
<rect x="429" y="706" width="1" height="25" fill="#c0c0c0"/>
<rect x="437" y="706" width="1" height="24" fill="#c0c0c0"/>
<rect x="445" y="706" width="1" height="21" fill="#c0c0c0"/>
<rect x="453" y="706" width="1" height="19" fill="#c0c0c0"/>
<rect x="461" y="706" width="1" height="25" fill="#c0c0c0"/>
<rect x="469" y="706" width="1" height="29" fill="#c0c0c0"/>
<rect x="477" y="706" width="1" height="26" fill="#c0c0c0"/>
<rect x="485" y="706" width="1" height="23" fill="#c0c0c0"/>
<rect x="493" y="706" width="1" height="19" fill="#c0c0c0"/>
<rect x="501" y="706" width="1" height="18" fill="#c0c0c0"/>
<rect x="509" y="706" width="1" height="13" fill="#c0c0c0"/>
<rect x="517" y="706" width="1" height="8" fill="#c0c0c0"/>
<rect x="525" y="706" width="1" height="5" fill="#c0c0c0"/>
<rect x="533" y="706" width="1" height="1" fill="#c0c0c0"/>
<rect x="541" y="702" width="1" height="4" fill="#c0c0c0"/>
<rect x="549" y="699" width="1" height="7" fill="#c0c0c0"/>
<rect x="557" y="698" width="1" height="8" fill="#c0c0c0"/>
<rect x="565" y="695" width="1" height="11" fill="#c0c0c0"/>
<rect x="573" y="697" width="1" height="9" fill="#c0c0c0"/>
<rect x="581" y="698" width="1" height="8" fill="#c0c0c0"/>
<rect x="589" y="701" width="1" height="5" fill="#c0c0c0"/>
<rect x="597" y="704" width="1" height="2" fill="#c0c0c0"/>
<rect x="605" y="706" width="1" height="4" fill="#c0c0c0"/>
<rect x="613" y="706" width="1" height="7" fill="#c0c0c0"/>
<rect x="621" y="706" width="1" height="9" fill="#c0c0c0"/>
<rect x="629" y="706" width="1" height="10" fill="#c0c0c0"/>
<rect x="637" y="706" width="1" height="15" fill="#c0c0c0"/>
<rect x="645" y="706" width="1" height="16" fill="#c0c0c0"/>
<rect x="653" y="706" width="1" height="14" fill="#c0c0c0"/>
<rect x="661" y="706" width="1" height="13" fill="#c0c0c0"/>
<rect x="669" y="706" width="1" height="18" fill="#c0c0c0"/>
<rect x="677" y="706" width="1" height="21" fill="#c0c0c0"/>
<rect x="685" y="706" width="1" height="24" fill="#c0c0c0"/>
<rect x="693" y="706" width="1" height="26" fill="#c0c0c0"/>
<rect x="701" y="706" width="1" height="30" fill="#c0c0c0"/>
<rect x="709" y="706" width="1" height="36" fill="#c0c0c0"/>
<rect x="717" y="706" width="1" height="31" fill="#c0c0c0"/>
<rect x="725" y="706" width="1" height="25" fill="#c0c0c0"/>
<rect x="733" y="706" width="1" height="22" fill="#c0c0c0"/>
<rect x="741" y="706" width="1" height="22" fill="#c0c0c0"/>
<rect x="749" y="706" width="1" height="21" fill="#c0c0c0"/>
<rect x="757" y="706" width="1" height="22" fill="#c0c0c0"/>
<rect x="765" y="706" width="1" height="17" fill="#c0c0c0"/>
<rect x="773" y="706" width="1" height="14" fill="#c0c0c0"/>
<rect x="781" y="706" width="1" height="12" fill="#c0c0c0"/>
<rect x="789" y="706" width="1" height="12" fill="#c0c0c0"/>
<rect x="797" y="706" width="1" height="11" fill="#c0c0c0"/>
<rect x="805" y="706" width="1" height="15" fill="#c0c0c0"/>
<rect x="813" y="706" width="1" height="22" fill="#c0c0c0"/>
<rect x="821" y="706" width="1" height="29" fill="#c0c0c0"/>
<rect x="829" y="706" width="1" height="33" fill="#c0c0c0"/>
<rect x="837" y="706" width="1" height="37" fill="#c0c0c0"/>
<rect x="845" y="706" width="1" height="39" fill="#c0c0c0"/>
<rect x="853" y="706" width="1" height="43" fill="#c0c0c0"/>
<rect x="861" y="706" width="1" height="40" fill="#c0c0c0"/>
<rect x="869" y="706" width="1" height="39" fill="#c0c0c0"/>
<rect x="877" y="706" width="1" height="36" fill="#c0c0c0"/>
<rect x="885" y="706" width="1" height="31" fill="#c0c0c0"/>
<rect x="893" y="706" width="1" height="28" fill="#c0c0c0"/>
<rect x="901" y="706" width="1" height="21" fill="#c0c0c0"/>
<rect x="909" y="706" width="1" height="17" fill="#c0c0c0"/>
<rect x="917" y="706" width="1" height="13" fill="#c0c0c0"/>
<rect x="925" y="706" width="1" height="10" fill="#c0c0c0"/>
<rect x="933" y="706" width="1" height="5" fill="#c0c0c0"/>
<rect x="941" y="706" width="1" height="5" fill="#c0c0c0"/>
<rect x="949" y="706" width="1" height="5" fill="#c0c0c0"/>
<rect x="957" y="706" width="1" height="6" fill="#c0c0c0"/>
<rect x="965" y="706" width="1" height="5" fill="#c0c0c0"/>
<rect x="973" y="706" width="1" height="8" fill="#c0c0c0"/>
<rect x="981" y="706" width="1" height="9" fill="#c0c0c0"/>
<rect x="989" y="706" width="1" height="4" fill="#c0c0c0"/>
<rect x="997" y="706" width="1" height="4" fill="#c0c0c0"/>
<rect x="1005" y="706" width="1" height="5" fill="#c0c0c0"/>
<rect x="1013" y="706" width="1" height="7" fill="#c0c0c0"/>
<rect x="1021" y="706" width="1" height="6" fill="#c0c0c0"/>
<rect x="1029" y="706" width="1" height="6" fill="#c0c0c0"/>
<rect x="1037" y="706" width="1" height="8" fill="#c0c0c0"/>
<rect x="1045" y="706" width="1" height="8" fill="#c0c0c0"/>
<rect x="1053" y="706" width="1" height="11" fill="#c0c0c0"/>
<rect x="1061" y="706" width="1" height="12" fill="#c0c0c0"/>
<rect x="1069" y="706" width="1" height="11" fill="#c0c0c0"/>
<rect x="1077" y="706" width="1" height="8" fill="#c0c0c0"/>
<rect x="1085" y="706" width="1" height="10" fill="#c0c0c0"/>
<rect x="1093" y="706" width="1" height="12" fill="#c0c0c0"/>
<rect x="1101" y="706" width="1" height="13" fill="#c0c0c0"/>
<rect x="1109" y="706" width="1" height="15" fill="#c0c0c0"/>
<rect x="1117" y="706" width="1" height="20" fill="#c0c0c0"/>
<rect x="1125" y="706" width="1" height="25" fill="#c0c0c0"/>
<rect x="1133" y="706" width="1" height="30" fill="#c0c0c0"/>
<rect x="1141" y="706" width="1" height="37" fill="#c0c0c0"/>
<rect x="1149" y="706" width="1" height="43" fill="#c0c0c0"/>
<rect x="1157" y="706" width="1" height="47" fill="#c0c0c0"/>
<rect x="1165" y="706" width="1" height="51" fill="#c0c0c0"/>
<rect x="1173" y="706" width="1" height="50" fill="#c0c0c0"/>
<rect x="1181" y="706" width="1" height="52" fill="#c0c0c0"/>
<rect x="1189" y="706" width="1" height="58" fill="#c0c0c0"/>
<rect x="1197" y="706" width="1" height="64" fill="#c0c0c0"/>
<rect x="1205" y="706" width="1" height="69" fill="#c0c0c0"/>
<rect x="1213" y="706" width="1" height="74" fill="#c0c0c0"/>
<rect x="1221" y="706" width="1" height="78" fill="#c0c0c0"/>
<rect x="1229" y="706" width="1" height="79" fill="#c0c0c0"/>
<rect x="1237" y="706" width="1" height="76" fill="#c0c0c0"/>
<rect x="1245" y="706" width="1" height="75" fill="#c0c0c0"/>
<rect x="1253" y="706" width="1" height="74" fill="#c0c0c0"/>
<rect x="1261" y="706" width="1" height="70" fill="#c0c0c0"/>
<path d="M587 700h3v1h-3zM593 700h3v1h-3zM599 700h3v1h-3zM605 700h3v1h-3zM583 701h1v1h-1zM611 701h3v1h-3zM581 702h2v1h-2zM617 702h2v1h-2zM575 703h3v1h-3zM619 703h1v1h-1zM623 704h3v1h-3zM569 705h3v1h-3zM629 705h2v1h-2zM631 706h1v1h-1zM564 707h2v1h-2zM635 707h1v1h-1zM563 708h1v1h-1zM636 708h2v1h-2zM558 710h2v1h-2zM641 710h3v1h-3zM557 711h1v1h-1zM995 711h3v1h-3zM1001 711h3v1h-3zM1007 711h3v1h-3zM1013 711h3v1h-3zM1019 711h3v1h-3zM553 712h1v1h-1zM647 712h3v1h-3zM985 712h1v1h-1zM989 712h3v1h-3zM1025 712h3v1h-3zM1031 712h3v1h-3zM1037 712h3v1h-3zM1043 712h3v1h-3zM1049 712h3v1h-3zM1055 712h2v1h-2zM551 713h2v1h-2zM653 713h2v1h-2zM977 713h3v1h-3zM983 713h2v1h-2zM1057 713h1v1h-1zM1061 713h3v1h-3zM655 714h1v1h-1zM971 714h3v1h-3zM1067 714h3v1h-3zM1073 714h3v1h-3zM1079 714h3v1h-3zM1085 714h3v1h-3zM546 715h2v1h-2zM659 715h3v1h-3zM965 715h3v1h-3zM1091 715h3v1h-3zM545 716h1v1h-1zM665 716h2v1h-2zM961 716h1v1h-1zM1097 716h3v1h-3zM1103 716h2v1h-2zM667 717h1v1h-1zM959 717h2v1h-2zM1105 717h1v1h-1zM1109 717h3v1h-3zM540 718h2v1h-2zM671 718h3v1h-3zM1115 718h3v1h-3zM539 719h1v1h-1zM677 719h2v1h-2zM953 719h3v1h-3zM1121 719h3v1h-3zM535 720h1v1h-1zM679 720h1v1h-1zM1127 720h3v1h-3zM533 721h2v1h-2zM683 721h3v1h-3zM948 721h2v1h-2zM1133 721h2v1h-2zM529 722h1v1h-1zM689 722h2v1h-2zM803 722h3v1h-3zM809 722h3v1h-3zM815 722h2v1h-2zM947 722h1v1h-1zM1135 722h1v1h-1zM527 723h2v1h-2zM691 723h1v1h-1zM793 723h1v1h-1zM797 723h3v1h-3zM817 723h1v1h-1zM821 723h3v1h-3zM943 723h1v1h-1zM1139 723h1v1h-1zM521 724h3v1h-3zM695 724h3v1h-3zM787 724h1v1h-1zM791 724h2v1h-2zM827 724h3v1h-3zM941 724h2v1h-2zM1140 724h2v1h-2zM515 725h3v1h-3zM701 725h2v1h-2zM785 725h2v1h-2zM833 725h2v1h-2zM83 726h3v1h-3zM511 726h1v1h-1zM703 726h1v1h-1zM780 726h2v1h-2zM835 726h1v1h-1zM936 726h2v1h-2zM1145 726h1v1h-1zM5 727h2v1h-2zM77 727h3v1h-3zM89 727h3v1h-3zM95 727h3v1h-3zM101 727h3v1h-3zM107 727h3v1h-3zM505 727h1v1h-1zM509 727h2v1h-2zM707 727h3v1h-3zM779 727h1v1h-1zM839 727h2v1h-2zM935 727h1v1h-1zM1146 727h2v1h-2zM7 728h1v1h-1zM71 728h3v1h-3zM113 728h3v1h-3zM119 728h2v1h-2zM497 728h3v1h-3zM503 728h2v1h-2zM713 728h2v1h-2zM775 728h1v1h-1zM841 728h1v1h-1zM11 729h1v1h-1zM121 729h1v1h-1zM125 729h2v1h-2zM491 729h3v1h-3zM715 729h1v1h-1zM719 729h2v1h-2zM773 729h2v1h-2zM845 729h2v1h-2zM930 729h2v1h-2zM1151 729h1v1h-1zM12 730h2v1h-2zM65 730h3v1h-3zM127 730h1v1h-1zM457 730h1v1h-1zM461 730h3v1h-3zM467 730h3v1h-3zM473 730h3v1h-3zM479 730h3v1h-3zM485 730h3v1h-3zM721 730h1v1h-1zM725 730h3v1h-3zM767 730h3v1h-3zM847 730h1v1h-1zM929 730h1v1h-1zM1152 730h2v1h-2zM131 731h3v1h-3zM341 731h3v1h-3zM347 731h3v1h-3zM353 731h3v1h-3zM359 731h2v1h-2zM451 731h1v1h-1zM455 731h2v1h-2zM731 731h3v1h-3zM761 731h3v1h-3zM851 731h1v1h-1zM17 732h3v1h-3zM59 732h3v1h-3zM137 732h3v1h-3zM335 732h3v1h-3zM361 732h1v1h-1zM365 732h3v1h-3zM449 732h2v1h-2zM737 732h3v1h-3zM743 732h3v1h-3zM749 732h3v1h-3zM755 732h3v1h-3zM852 732h2v1h-2zM924 732h2v1h-2zM1157 732h1v1h-1zM49 733h1v1h-1zM53 733h3v1h-3zM143 733h2v1h-2zM371 733h3v1h-3zM443 733h3v1h-3zM923 733h1v1h-1zM1158 733h2v1h-2zM23 734h3v1h-3zM41 734h3v1h-3zM47 734h2v1h-2zM145 734h1v1h-1zM329 734h3v1h-3zM377 734h3v1h-3zM433 734h1v1h-1zM437 734h3v1h-3zM857 734h3v1h-3zM919 734h1v1h-1zM29 735h3v1h-3zM35 735h3v1h-3zM149 735h2v1h-2zM383 735h3v1h-3zM425 735h3v1h-3zM431 735h2v1h-2zM917 735h2v1h-2zM151 736h1v1h-1zM324 736h2v1h-2zM389 736h3v1h-3zM401 736h3v1h-3zM407 736h3v1h-3zM413 736h3v1h-3zM419 736h3v1h-3zM863 736h1v1h-1zM913 736h1v1h-1zM1163 736h2v1h-2zM155 737h1v1h-1zM323 737h1v1h-1zM395 737h3v1h-3zM864 737h2v1h-2zM911 737h2v1h-2zM1165 737h1v1h-1zM156 738h2v1h-2zM907 738h1v1h-1zM318 739h2v1h-2zM869 739h2v1h-2zM905 739h2v1h-2zM1169 739h1v1h-1zM161 740h1v1h-1zM317 740h1v1h-1zM871 740h1v1h-1zM899 740h3v1h-3zM1170 740h2v1h-2zM162 741h2v1h-2zM875 741h3v1h-3zM895 741h1v1h-1zM312 742h2v1h-2zM881 742h3v1h-3zM887 742h3v1h-3zM893 742h2v1h-2zM1175 742h1v1h-1zM167 743h2v1h-2zM311 743h1v1h-1zM1176 743h2v1h-2zM169 744h1v1h-1zM173 745h1v1h-1zM307 745h1v1h-1zM1181 745h1v1h-1zM174 746h2v1h-2zM305 746h2v1h-2zM1182 746h2v1h-2zM179 748h1v1h-1zM1187 748h1v1h-1zM180 749h2v1h-2zM301 749h1v1h-1zM1188 749h2v1h-2zM299 750h2v1h-2zM185 751h3v1h-3zM1193 752h2v1h-2zM191 753h1v1h-1zM294 753h2v1h-2zM1195 753h1v1h-1zM192 754h2v1h-2zM293 754h1v1h-1zM1199 755h1v1h-1zM197 756h1v1h-1zM288 756h2v1h-2zM1200 756h2v1h-2zM198 757h2v1h-2zM287 757h1v1h-1zM1205 758h1v1h-1zM203 759h1v1h-1zM282 759h2v1h-2zM1206 759h2v1h-2zM204 760h2v1h-2zM281 760h1v1h-1zM1211 761h1v1h-1zM209 762h3v1h-3zM276 762h2v1h-2zM1212 762h2v1h-2zM275 763h1v1h-1zM215 764h2v1h-2zM271 764h1v1h-1zM1217 764h1v1h-1zM217 765h1v1h-1zM269 765h2v1h-2zM1218 765h2v1h-2zM221 766h3v1h-3zM265 766h1v1h-1zM227 767h3v1h-3zM263 767h2v1h-2zM1223 767h2v1h-2zM233 768h3v1h-3zM239 768h2v1h-2zM251 768h3v1h-3zM257 768h3v1h-3zM1225 768h1v1h-1zM241 769h1v1h-1zM245 769h3v1h-3zM1229 769h2v1h-2zM1231 770h1v1h-1zM1235 771h1v1h-1zM1236 772h2v1h-2zM1241 774h3v1h-3zM1247 776h3v1h-3zM1253 777h2v1h-2zM1255 778h1v1h-1zM1259 779h3v1h-3z" fill="#ff0000"/>
</g>
<text x="9.2" y="702" font-size="10.0" fill="#000" stroke="#000" stroke-width="0.12" textLength="153.90" lengthAdjust="spacingAndGlyphs" >MACD(12,26,9) -0.009704 -0.010090</text>
<g shape-rendering="crispEdges"><rect x="1598" y="690" width="2" height="1" fill="#000"/><rect x="1598" y="706" width="2" height="1" fill="#000"/><rect x="1598" y="789" width="2" height="1" fill="#000"/></g>
<text x="1601" y="699.0" font-size="10.0" fill="#000" stroke="#000" stroke-width="0.12" textLength="32.82" lengthAdjust="spacingAndGlyphs" >0.00207</text>
<text x="1601" y="709.7" font-size="10.0" fill="#000" stroke="#000" stroke-width="0.12" textLength="17.67" lengthAdjust="spacingAndGlyphs" >0.00</text>
<text x="1601" y="786.9" font-size="10.0" fill="#000" stroke="#000" stroke-width="0.12" textLength="35.17" lengthAdjust="spacingAndGlyphs" >-0.01146</text>
<g shape-rendering="crispEdges">
<rect x="5" y="791" width="1" height="3" fill="#000"/>
<rect x="69" y="791" width="1" height="3" fill="#000"/>
<rect x="133" y="791" width="1" height="3" fill="#000"/>
<rect x="197" y="791" width="1" height="3" fill="#000"/>
<rect x="261" y="791" width="1" height="3" fill="#000"/>
<rect x="325" y="791" width="1" height="3" fill="#000"/>
<rect x="389" y="791" width="1" height="3" fill="#000"/>
<rect x="453" y="791" width="1" height="3" fill="#000"/>
<rect x="517" y="791" width="1" height="3" fill="#000"/>
<rect x="581" y="791" width="1" height="3" fill="#000"/>
<rect x="645" y="791" width="1" height="3" fill="#000"/>
<rect x="709" y="791" width="1" height="3" fill="#000"/>
<rect x="773" y="791" width="1" height="3" fill="#000"/>
<rect x="837" y="791" width="1" height="3" fill="#000"/>
<rect x="901" y="791" width="1" height="3" fill="#000"/>
<rect x="965" y="791" width="1" height="3" fill="#000"/>
<rect x="1029" y="791" width="1" height="3" fill="#000"/>
<rect x="1093" y="791" width="1" height="3" fill="#000"/>
<rect x="1157" y="791" width="1" height="3" fill="#000"/>
<rect x="1221" y="791" width="1" height="3" fill="#000"/>
</g>
<text x="4.1000000000000005" y="802.8" font-size="10.0" fill="#000" stroke="#000" stroke-width="0.12" textLength="54.00" lengthAdjust="spacingAndGlyphs" >12 Nov 2020</text>
<text x="68.0" y="802.8" font-size="10.0" fill="#000" stroke="#000" stroke-width="0.12" textLength="53.90" lengthAdjust="spacingAndGlyphs" >21 Nov 2020</text>
<text x="132.39999999999998" y="802.8" font-size="10.0" fill="#000" stroke="#000" stroke-width="0.12" textLength="46.40" lengthAdjust="spacingAndGlyphs" >1 Dec 2020</text>
<text x="196.0" y="802.8" font-size="10.0" fill="#000" stroke="#000" stroke-width="0.12" textLength="51.90" lengthAdjust="spacingAndGlyphs" >10 Dec 2020</text>
<text x="260.2" y="802.8" font-size="10.0" fill="#000" stroke="#000" stroke-width="0.12" textLength="51.90" lengthAdjust="spacingAndGlyphs" >19 Dec 2020</text>
<text x="324.09999999999997" y="802.8" font-size="10.0" fill="#000" stroke="#000" stroke-width="0.12" textLength="51.50" lengthAdjust="spacingAndGlyphs" >30 Dec 2020</text>
<text x="388.0" y="802.8" font-size="10.0" fill="#000" stroke="#000" stroke-width="0.12" textLength="44.20" lengthAdjust="spacingAndGlyphs" >9 Jan 2021</text>
<text x="452.0" y="802.8" font-size="10.0" fill="#000" stroke="#000" stroke-width="0.12" textLength="49.40" lengthAdjust="spacingAndGlyphs" >19 Jan 2021</text>
<text x="516.0" y="802.8" font-size="10.0" fill="#000" stroke="#000" stroke-width="0.12" textLength="49.50" lengthAdjust="spacingAndGlyphs" >28 Jan 2021</text>
<text x="580.2" y="802.8" font-size="10.0" fill="#000" stroke="#000" stroke-width="0.12" textLength="46.20" lengthAdjust="spacingAndGlyphs" >6 Feb 2021</text>
<text x="644.1" y="802.8" font-size="10.0" fill="#000" stroke="#000" stroke-width="0.12" textLength="51.10" lengthAdjust="spacingAndGlyphs" >16 Feb 2021</text>
<text x="708.0" y="802.8" font-size="10.0" fill="#000" stroke="#000" stroke-width="0.12" textLength="51.60" lengthAdjust="spacingAndGlyphs" >25 Feb 2021</text>
<text x="772.0" y="802.8" font-size="10.0" fill="#000" stroke="#000" stroke-width="0.12" textLength="46.20" lengthAdjust="spacingAndGlyphs" >6 Mar 2021</text>
<text x="836.0" y="802.8" font-size="10.0" fill="#000" stroke="#000" stroke-width="0.12" textLength="51.50" lengthAdjust="spacingAndGlyphs" >16 Mar 2021</text>
<text x="900.2" y="802.8" font-size="10.0" fill="#000" stroke="#000" stroke-width="0.12" textLength="51.30" lengthAdjust="spacingAndGlyphs" >25 Mar 2021</text>
<text x="964.1" y="802.8" font-size="10.0" fill="#000" stroke="#000" stroke-width="0.12" textLength="45.50" lengthAdjust="spacingAndGlyphs" >3 Apr 2021</text>
<text x="1028.0" y="802.8" font-size="10.0" fill="#000" stroke="#000" stroke-width="0.12" textLength="50.80" lengthAdjust="spacingAndGlyphs" >13 Apr 2021</text>
<text x="1092.0" y="802.8" font-size="10.0" fill="#000" stroke="#000" stroke-width="0.12" textLength="50.90" lengthAdjust="spacingAndGlyphs" >22 Apr 2021</text>
<text x="1156.0" y="802.8" font-size="10.0" fill="#000" stroke="#000" stroke-width="0.12" textLength="49.50" lengthAdjust="spacingAndGlyphs" >1 May 2021</text>
<text x="1220.2" y="802.8" font-size="10.0" fill="#000" stroke="#000" stroke-width="0.12" textLength="54.50" lengthAdjust="spacingAndGlyphs" >11 May 2021</text>
<g shape-rendering="crispEdges">
<rect x="0" y="811" width="1634" height="1" fill="#e3e3e3"/>
<rect x="0" y="813" width="1634" height="1" fill="#000"/>
<rect x="0" y="814" width="1634" height="20" fill="#f0f0f0"/>
<rect x="0" y="814" width="2" height="20" fill="#a0a0a0"/>
<rect x="314" y="813" width="104" height="19" fill="#000"/><rect x="315" y="812" width="102" height="19" fill="#fff"/>
</g>
<text x="17.8" y="828" font-size="12" fill="#6d6d6d">EURUSD,Daily</text>
<text x="120" y="828" font-size="12" fill="#6d6d6d">USDCHF,Daily</text>
<text x="221" y="828" font-size="12" fill="#6d6d6d">AUDUSD,Daily</text>
<text x="428.4" y="828" font-size="12" fill="#6d6d6d">USDCNH,Daily</text>
<text x="533" y="828" font-size="12" fill="#6d6d6d">EURUSD,Daily</text>
<text x="638.7" y="828" font-size="12" fill="#6d6d6d">GBPUSD,Daily</text>
<text x="741.5" y="828" font-size="12" fill="#6d6d6d">XAUUSD,H4</text>
<text x="834" y="828" font-size="12" fill="#6d6d6d">HK50,M15</text>
<text x="917" y="828" font-size="12" fill="#6d6d6d">UK100,H1</text>
<text x="997.5" y="828" font-size="12" fill="#6d6d6d">UK100,H1</text>
<text x="1077" y="828" font-size="12" fill="#6d6d6d">GER30,H1</text>
<text x="1156.3" y="828" font-size="12" fill="#6d6d6d">FRA40,H1</text>
<text x="1232.5" y="828" font-size="12" fill="#6d6d6d">USOil,H1</text>
<text x="1304.4" y="828" font-size="12" fill="#6d6d6d">USDJPY,H1</text>
<text x="1389.2" y="828" font-size="12" fill="#6d6d6d">DJ30,Weekly</text>
<text x="1484" y="828" font-size="12" fill="#6d6d6d">CHINA300,H1</text>
<text x="1584" y="828" font-size="12" fill="#6d6d6d">USC</text>
<text x="325.7" y="828" font-size="12" fill="#000">USDCAD,Daily</text>
<g shape-rendering="crispEdges">
<rect x="110" y="816" width="1" height="14" fill="#707070"/>
<rect x="210" y="816" width="1" height="14" fill="#707070"/>
<rect x="523" y="816" width="1" height="14" fill="#707070"/>
<rect x="627" y="816" width="1" height="14" fill="#707070"/>
<rect x="730" y="816" width="1" height="14" fill="#707070"/>
<rect x="823" y="816" width="1" height="14" fill="#707070"/>
<rect x="907" y="816" width="1" height="14" fill="#707070"/>
<rect x="986" y="816" width="1" height="14" fill="#707070"/>
<rect x="1066" y="816" width="1" height="14" fill="#707070"/>
<rect x="1147" y="816" width="1" height="14" fill="#707070"/>
<rect x="1222" y="816" width="1" height="14" fill="#707070"/>
<rect x="1294" y="816" width="1" height="14" fill="#707070"/>
<rect x="1378" y="816" width="1" height="14" fill="#707070"/>
<rect x="1475" y="816" width="1" height="14" fill="#707070"/>
<rect x="1574" y="816" width="1" height="14" fill="#707070"/>
</g>
<path d="M1616,819 L1613,822 L1616,825 Z" fill="#8c8c8c"/>
<path d="M1632,819 L1635,822 L1632,825 Z" fill="#000"/>
<rect x="0" y="833" width="1634" height="1" fill="#fafafa" shape-rendering="crispEdges"/>
<rect x="315" y="832" width="103" height="1" fill="#d4d4d4" shape-rendering="crispEdges"/>
</svg></div></body></html>
